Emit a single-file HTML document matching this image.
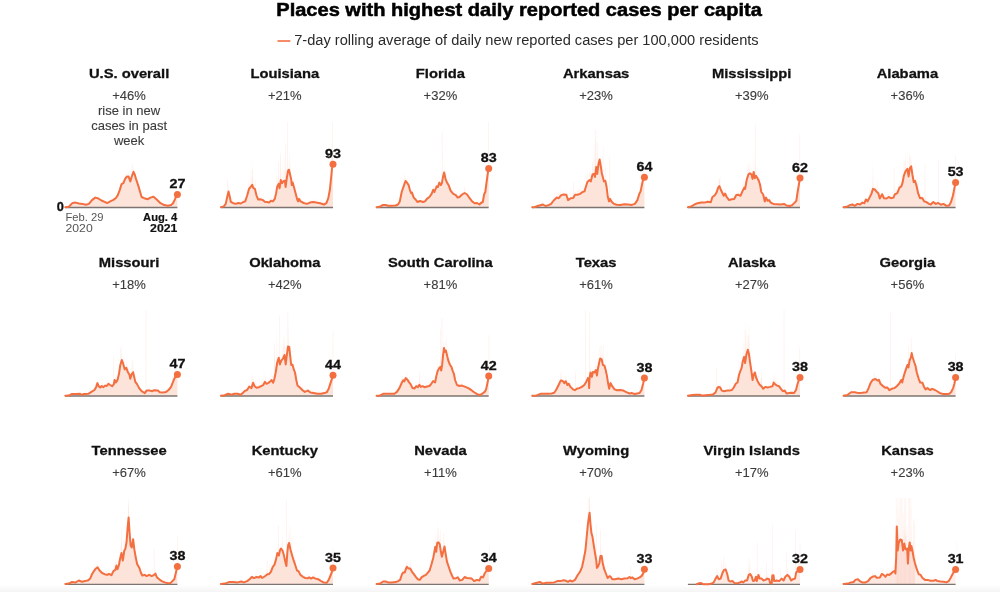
<!DOCTYPE html>
<html lang="en"><head><meta charset="utf-8"><title>Places with highest daily reported cases per capita</title>
<style>html,body{margin:0;padding:0;background:#fff}body{width:1000px;height:592px;overflow:hidden}svg{display:block}text{font-family:"Liberation Sans",sans-serif}.t{font-weight:700;font-size:18px;fill:#000;stroke:#000;stroke-width:.5px}.s{font-size:14.7px;fill:#2a2a2a}.n{font-weight:700;font-size:13.6px;fill:#111;stroke:#111;stroke-width:.3px;text-anchor:middle}.p{font-size:13px;fill:#3c3c3c;stroke:#3c3c3c;stroke-width:.12px;text-anchor:middle}.v{font-weight:700;font-size:12.8px;fill:#111;stroke:#111;stroke-width:.3px;text-anchor:middle}.d{font-size:11.2px;fill:#555}.db{font-size:11.2px;font-weight:700;fill:#111;stroke:#111;stroke-width:.2px;text-anchor:end}.l{fill:none;stroke:#f36f40;stroke-width:2;stroke-linejoin:round;stroke-linecap:round}.a{fill:#f36f40;fill-opacity:.125;stroke:none}.k{fill:#f36f40;fill-opacity:.07;stroke:none}.k2{fill:#f36f40;fill-opacity:.11;stroke:none}.x{stroke:#7d7470;stroke-width:1.3;fill:none}.c{fill:#f36f40}</style></head><body>
<svg width="1000" height="592" viewBox="0 0 1000 592">
<defs><linearGradient id="fade" x1="0" y1="0" x2="0" y2="1"><stop offset="0" stop-color="#fff"/><stop offset="1" stop-color="#f4f4f4"/></linearGradient>
<clipPath id="cp0"><rect x="0" y="121.0" width="1000" height="86.5"/></clipPath>
<clipPath id="cp1"><rect x="0" y="309.5" width="1000" height="86.5"/></clipPath>
<clipPath id="cp2"><rect x="0" y="498.0" width="1000" height="86.3"/></clipPath>
</defs>
<rect x="0" y="0" width="1000" height="592" fill="#fff"/>
<rect x="0" y="584.6" width="1000" height="7.4" fill="url(#fade)"/>
<text class="t" x="276.3" y="15.9" textLength="485.5" lengthAdjust="spacingAndGlyphs">Places with highest daily reported cases per capita</text>
<line x1="277.5" y1="41" x2="290.3" y2="41" stroke="#f36f40" stroke-width="1.6"/>
<text class="s" x="294.2" y="45.0" textLength="464.5" lengthAdjust="spacingAndGlyphs">7-day rolling average of daily new reported cases per 100,000 residents</text>
<g>
<g clip-path="url(#cp0)">
<path class="k" d="M65.3 207.5L65.3 207.2L65.7 207.1L66.2 207.1L66.6 207.0L67.0 206.9L67.5 206.9L67.9 206.9L68.3 206.8L68.7 206.8L69.2 205.2L69.6 205.5L70.0 205.0L70.5 204.2L70.9 203.9L71.3 203.2L71.8 203.2L72.2 202.3L72.6 202.6L73.1 202.0L73.5 201.6L73.9 202.2L74.4 202.3L74.8 201.6L75.2 201.8L75.6 201.6L76.1 202.2L76.5 202.0L76.9 201.9L77.4 203.0L77.8 202.6L78.2 203.0L78.7 202.8L79.1 202.7L79.5 202.5L80.0 202.9L80.4 202.5L80.8 203.2L81.3 202.8L81.7 203.2L82.1 202.5L82.5 203.1L83.0 202.9L83.4 203.4L83.8 204.1L84.3 204.0L84.7 204.0L85.1 204.4L85.6 204.6L86.0 204.1L86.4 204.1L86.9 203.5L87.3 203.8L87.7 202.9L88.2 203.8L88.6 202.9L89.0 202.1L89.4 202.4L89.9 201.8L90.3 201.9L90.7 200.5L91.2 199.6L91.6 200.0L92.0 199.2L92.5 198.3L92.9 198.3L93.3 198.1L93.8 197.7L94.2 196.7L94.6 198.0L95.0 196.2L95.5 197.0L95.9 197.4L96.3 196.6L96.8 197.2L97.2 196.6L97.6 197.5L98.1 197.0L98.5 198.6L98.9 196.5L99.4 198.3L99.8 198.2L100.2 199.5L100.7 199.9L101.1 199.8L101.5 200.0L101.9 199.8L102.4 200.1L102.8 199.7L103.2 200.9L103.7 200.6L104.1 201.2L104.5 201.0L105.0 201.0L105.4 201.4L105.8 201.9L106.3 201.9L106.7 201.0L107.1 202.2L107.6 202.1L108.0 202.6L108.4 201.3L108.8 201.7L109.3 200.8L109.7 201.4L110.1 199.7L110.6 201.0L111.0 200.8L111.4 199.5L111.9 199.8L112.3 199.4L112.7 199.2L113.2 199.6L113.6 199.2L114.0 198.5L114.5 197.7L114.9 198.1L115.3 197.4L115.7 198.0L116.2 196.2L116.6 196.8L117.0 194.7L117.5 195.3L117.9 193.5L118.3 192.3L118.8 190.9L119.2 189.3L119.6 188.2L120.1 186.6L120.5 186.2L120.9 183.5L121.3 184.2L121.8 182.1L122.2 183.1L122.6 179.9L123.1 181.0L123.5 181.8L123.9 177.3L124.4 177.8L124.8 178.8L125.2 174.4L125.7 173.4L126.1 176.5L126.5 173.2L127.0 175.1L127.4 173.5L127.8 175.0L128.2 174.3L128.7 172.4L129.1 174.5L129.5 178.2L130.0 178.8L130.4 179.9L130.8 177.7L131.3 177.1L131.7 173.6L132.1 175.2L132.6 171.9L133.0 171.1L133.4 171.3L133.9 165.4L134.3 173.5L134.7 173.3L135.1 173.3L135.6 174.7L136.0 178.2L136.4 178.6L136.9 180.9L137.3 182.3L137.7 183.3L138.2 184.0L138.6 186.1L139.0 188.1L139.5 187.4L139.9 188.4L140.3 190.8L140.8 193.6L141.2 194.4L141.6 195.9L142.0 196.9L142.5 196.6L142.9 196.7L143.3 197.4L143.8 198.1L144.2 196.5L144.6 196.0L145.1 196.8L145.5 198.2L145.9 196.7L146.4 198.0L146.8 198.3L147.2 198.4L147.7 197.2L148.1 197.4L148.5 198.0L148.9 196.4L149.4 197.4L149.8 195.7L150.2 196.6L150.7 196.6L151.1 196.8L151.5 197.1L152.0 196.0L152.4 195.9L152.8 194.8L153.3 195.6L153.7 195.5L154.1 195.5L154.5 197.2L155.0 196.7L155.4 197.3L155.8 198.4L156.3 198.7L156.7 198.5L157.1 198.4L157.6 199.7L158.0 199.7L158.4 200.4L158.9 201.5L159.3 201.2L159.7 201.5L160.2 201.9L160.6 202.3L161.0 202.7L161.4 203.4L161.9 203.1L162.3 203.2L162.7 203.0L163.2 203.4L163.6 203.7L164.0 204.6L164.5 204.4L164.9 204.3L165.3 204.5L165.8 205.1L166.2 205.1L166.6 205.1L167.1 204.6L167.5 204.5L167.9 205.2L168.3 204.5L168.8 204.3L169.2 205.3L169.6 204.2L170.1 204.0L170.5 203.9L170.9 205.1L171.4 204.5L171.8 204.5L172.2 203.8L172.7 203.0L173.1 202.6L173.5 200.5L174.0 199.9L174.4 198.8L174.8 198.2L175.2 197.6L175.7 195.6L176.1 196.2L176.5 195.6L177.0 194.0L177.4 193.2L177.4 207.5Z"/>
<path class="k2" d="M131.76 175.2L131.91 163.2L132.51 163.2L132.66 175.2Z"/>
<path class="a" d="M65.3 207.5L65.3 207.2L68.8 206.8L72.6 202.9L75.7 202.6L78.9 203.5L82.6 203.9L85.8 204.8L88.9 203.9L92.0 200.1L95.2 197.6L97.7 198.2L101.5 200.5L105.2 202.2L107.5 203.0L110.2 201.4L113.4 199.9L115.9 198.0L117.8 195.1L119.7 190.1L121.5 184.2L123.4 183.2L125.1 178.9L126.6 176.8L128.4 176.4L129.7 179.5L130.3 181.4L131.6 177.0L133.5 171.8L134.7 174.5L136.0 178.9L138.5 186.4L141.6 197.0L144.1 198.2L147.9 199.2L150.4 197.6L153.5 196.8L156.7 199.5L160.5 203.2L164.2 205.1L168.0 205.8L171.1 205.1L173.0 203.2L174.9 199.5L176.1 196.4L177.4 194.5L177.4 207.5Z"/>
</g>
<line class="x" x1="65.3" y1="207.5" x2="177.4" y2="207.5"/>
<path class="l" d="M65.3 207.2L68.8 206.8L72.6 202.9L75.7 202.6L78.9 203.5L82.6 203.9L85.8 204.8L88.9 203.9L92.0 200.1L95.2 197.6L97.7 198.2L101.5 200.5L105.2 202.2L107.5 203.0L110.2 201.4L113.4 199.9L115.9 198.0L117.8 195.1L119.7 190.1L121.5 184.2L123.4 183.2L125.1 178.9L126.6 176.8L128.4 176.4L129.7 179.5L130.3 181.4L131.6 177.0L133.5 171.8L134.7 174.5L136.0 178.9L138.5 186.4L141.6 197.0L144.1 198.2L147.9 199.2L150.4 197.6L153.5 196.8L156.7 199.5L160.5 203.2L164.2 205.1L168.0 205.8L171.1 205.1L173.0 203.2L174.9 199.5L176.1 196.4L177.4 194.5"/>
<circle class="c" cx="177.4" cy="194.5" r="3.5"/>
<text class="v" transform="translate(177.4 188.2) scale(1.12 1)">27</text>
<text class="n" transform="translate(129.1 78.4) scale(1.085 1)">U.S. overall</text>
<text class="p" x="129.1" y="100.1">+46%</text>
<text class="p" x="129.1" y="115.0">rise in new</text>
<text class="p" x="129.1" y="130.0">cases in past</text>
<text class="p" x="129.1" y="144.6">week</text>
<text class="v" x="60.4" y="211.2">0</text>
<text class="d" x="65.5" y="220.5">Feb. 29</text>
<text class="d" x="65.5" y="232.2" textLength="27.2" lengthAdjust="spacingAndGlyphs">2020</text>
<text class="db" x="177.3" y="220.5">Aug. 4</text>
<text class="db" x="177.3" y="232.2" textLength="27.2" lengthAdjust="spacingAndGlyphs">2021</text>
</g>
<g>
<g clip-path="url(#cp0)">
<path class="k" d="M220.9 207.5L220.9 207.2L221.4 206.8L221.8 206.9L222.2 206.8L222.7 206.5L223.1 206.5L223.5 206.1L224.0 206.1L224.4 203.7L224.8 202.4L225.3 202.4L225.7 202.0L226.1 200.4L226.6 199.4L227.0 194.6L227.4 189.2L227.8 193.6L228.3 192.1L228.7 181.9L229.1 185.9L229.6 195.6L230.0 194.5L230.4 192.8L230.9 198.8L231.3 201.9L231.7 198.1L232.2 195.5L232.6 201.7L233.0 201.1L233.5 203.1L233.9 203.1L234.3 203.5L234.7 202.8L235.2 201.5L235.6 201.9L236.0 201.1L236.5 201.8L236.9 203.0L237.3 203.0L237.8 202.2L238.2 202.5L238.6 201.3L239.1 199.1L239.5 201.1L239.9 203.3L240.4 203.3L240.8 203.0L241.2 202.6L241.6 202.1L242.1 202.5L242.5 200.2L242.9 197.7L243.4 200.3L243.8 200.9L244.2 201.2L244.7 197.6L245.1 200.8L245.5 199.5L246.0 196.5L246.4 187.0L246.8 196.0L247.3 194.6L247.7 192.9L248.1 178.7L248.5 184.1L249.0 183.5L249.4 188.3L249.8 187.1L250.3 164.9L250.7 184.7L251.1 185.8L251.6 175.8L252.0 181.5L252.4 171.3L252.9 159.6L253.3 179.4L253.7 188.2L254.1 179.9L254.6 187.6L255.0 184.0L255.4 178.7L255.9 181.5L256.3 194.6L256.7 195.1L257.2 195.8L257.6 194.3L258.0 197.8L258.5 198.5L258.9 187.1L259.3 186.1L259.8 191.6L260.2 199.3L260.6 197.0L261.0 199.3L261.5 195.8L261.9 198.1L262.3 198.3L262.8 199.4L263.2 200.3L263.6 197.5L264.1 199.8L264.5 200.0L264.9 201.1L265.4 200.7L265.8 197.8L266.2 199.8L266.7 201.3L267.1 199.8L267.5 201.2L267.9 201.3L268.4 202.0L268.8 200.9L269.2 201.0L269.7 198.1L270.1 201.4L270.5 194.9L271.0 197.3L271.4 199.7L271.8 200.4L272.3 200.1L272.7 196.5L273.1 198.9L273.6 196.7L274.0 195.4L274.4 198.6L274.8 197.7L275.3 195.7L275.7 194.4L276.1 185.6L276.6 173.4L277.0 175.1L277.4 183.1L277.9 176.2L278.3 180.1L278.7 183.0L279.2 179.0L279.6 186.5L280.0 154.0L280.4 172.3L280.9 180.1L281.3 181.1L281.7 173.3L282.2 168.6L282.6 181.5L283.0 152.1L283.5 180.8L283.9 169.3L284.3 170.4L284.8 154.1L285.2 174.1L285.6 168.7L286.1 177.1L286.5 180.0L286.9 161.2L287.3 172.5L287.8 168.9L288.2 168.0L288.6 169.1L289.1 149.6L289.5 154.2L289.9 165.5L290.4 161.9L290.8 176.8L291.2 180.0L291.7 183.2L292.1 179.4L292.5 182.9L293.0 183.4L293.4 175.6L293.8 179.8L294.2 187.6L294.7 182.0L295.1 183.5L295.5 186.7L296.0 192.2L296.4 196.3L296.8 194.9L297.3 194.2L297.7 197.9L298.1 200.7L298.6 197.2L299.0 198.4L299.4 195.4L299.9 194.1L300.3 200.1L300.7 201.3L301.1 199.1L301.6 201.1L302.0 201.4L302.4 202.1L302.9 199.0L303.3 202.7L303.7 200.6L304.2 201.3L304.6 202.6L305.0 202.0L305.5 203.0L305.9 201.4L306.3 203.2L306.7 201.4L307.2 203.2L307.6 203.2L308.0 201.5L308.5 202.4L308.9 202.6L309.3 200.9L309.8 200.3L310.2 202.2L310.6 201.2L311.1 199.9L311.5 201.3L311.9 201.8L312.4 197.2L312.8 200.7L313.2 200.5L313.6 201.3L314.1 199.8L314.5 199.8L314.9 201.8L315.4 198.8L315.8 202.2L316.2 199.9L316.7 201.0L317.1 197.9L317.5 201.9L318.0 201.9L318.4 202.1L318.8 202.0L319.3 202.6L319.7 202.2L320.1 201.3L320.5 202.4L321.0 197.7L321.4 203.2L321.8 202.7L322.3 201.4L322.7 201.8L323.1 202.0L323.6 203.3L324.0 201.5L324.4 202.7L324.9 203.8L325.3 202.3L325.7 202.6L326.2 202.8L326.6 201.4L327.0 197.2L327.4 199.4L327.9 195.1L328.3 197.7L328.7 195.7L329.2 185.2L329.6 172.7L330.0 187.4L330.5 183.1L330.9 169.7L331.3 149.9L331.8 138.1L332.2 152.9L332.6 153.0L333.0 163.9L333.0 207.5Z"/>
<path class="k2" d="M286.93 174.5L287.08 122.0L287.68 122.0L287.83 174.5ZM332.22 165.7L332.37 122.0L332.97 122.0L333.12 165.7ZM251.70 184.8L251.85 169.5L252.45 169.5L252.60 184.8ZM227.17 195.3L227.32 179.5L227.92 179.5L228.07 195.3ZM280.01 182.6L280.16 153.2L280.76 153.2L280.91 182.6ZM285.04 186.0L285.19 144.5L285.79 144.5L285.94 186.0ZM278.12 183.9L278.27 162.0L278.87 162.0L279.02 183.9Z"/>
<path class="a" d="M220.9 207.5L220.9 207.2L223.8 206.4L225.7 203.9L227.2 197.0L228.5 191.4L229.8 197.0L230.8 201.8L233.3 203.2L235.8 203.9L238.3 203.0L240.8 203.5L243.3 202.0L245.2 201.4L247.1 195.8L249.0 188.9L250.6 187.0L252.2 184.8L253.4 188.2L254.9 188.9L256.6 195.8L258.2 199.5L260.3 199.2L262.8 200.1L264.7 201.8L267.2 202.0L269.1 202.6L271.0 200.8L272.9 201.4L274.8 198.9L276.1 193.2L277.3 186.4L278.6 183.9L279.6 188.2L280.8 180.1L282.1 183.2L283.6 181.0L284.9 180.8L285.6 187.0L286.8 178.2L288.0 170.8L289.0 169.8L290.1 174.5L291.2 179.5L291.8 185.1L292.7 182.6L293.9 187.0L295.6 193.2L297.2 199.5L298.1 201.4L299.0 198.9L300.6 201.4L303.7 203.0L306.9 203.9L310.0 202.6L313.2 202.0L316.3 202.6L320.1 203.2L323.9 204.5L326.4 203.2L328.3 198.2L329.9 189.5L331.2 177.0L332.0 168.2L333.0 164.2L333.0 207.5Z"/>
</g>
<line class="x" x1="220.9" y1="207.5" x2="333.0" y2="207.5"/>
<path class="l" d="M220.9 207.2L223.8 206.4L225.7 203.9L227.2 197.0L228.5 191.4L229.8 197.0L230.8 201.8L233.3 203.2L235.8 203.9L238.3 203.0L240.8 203.5L243.3 202.0L245.2 201.4L247.1 195.8L249.0 188.9L250.6 187.0L252.2 184.8L253.4 188.2L254.9 188.9L256.6 195.8L258.2 199.5L260.3 199.2L262.8 200.1L264.7 201.8L267.2 202.0L269.1 202.6L271.0 200.8L272.9 201.4L274.8 198.9L276.1 193.2L277.3 186.4L278.6 183.9L279.6 188.2L280.8 180.1L282.1 183.2L283.6 181.0L284.9 180.8L285.6 187.0L286.8 178.2L288.0 170.8L289.0 169.8L290.1 174.5L291.2 179.5L291.8 185.1L292.7 182.6L293.9 187.0L295.6 193.2L297.2 199.5L298.1 201.4L299.0 198.9L300.6 201.4L303.7 203.0L306.9 203.9L310.0 202.6L313.2 202.0L316.3 202.6L320.1 203.2L323.9 204.5L326.4 203.2L328.3 198.2L329.9 189.5L331.2 177.0L332.0 168.2L333.0 164.2"/>
<circle class="c" cx="333.0" cy="164.2" r="3.5"/>
<text class="v" transform="translate(333.0 157.9) scale(1.12 1)">93</text>
<text class="n" transform="translate(284.8 78.4) scale(1.085 1)">Louisiana</text>
<text class="p" x="284.8" y="100.1">+21%</text>
</g>
<g>
<g clip-path="url(#cp0)">
<path class="k" d="M376.6 207.5L376.6 207.2L377.0 207.1L377.5 207.1L377.9 207.0L378.3 207.0L378.8 206.8L379.2 206.8L379.6 206.8L380.0 206.6L380.5 206.0L380.9 205.8L381.3 205.6L381.8 204.2L382.2 205.0L382.6 203.1L383.1 204.3L383.5 203.8L383.9 203.7L384.4 202.8L384.8 204.4L385.2 204.1L385.7 204.5L386.1 204.9L386.5 204.8L386.9 205.0L387.4 204.4L387.8 205.4L388.2 204.9L388.7 204.3L389.1 205.0L389.5 205.3L390.0 204.6L390.4 205.2L390.8 205.2L391.3 205.7L391.7 204.8L392.1 204.3L392.6 204.9L393.0 204.6L393.4 205.4L393.8 204.7L394.3 205.0L394.7 204.4L395.1 205.0L395.6 204.4L396.0 204.2L396.4 204.9L396.9 204.6L397.3 204.2L397.7 204.4L398.2 202.0L398.6 201.6L399.0 201.2L399.5 199.3L399.9 199.6L400.3 198.6L400.7 192.1L401.2 194.7L401.6 191.0L402.0 187.2L402.5 189.7L402.9 184.7L403.3 178.8L403.8 177.0L404.2 184.5L404.6 182.3L405.1 179.8L405.5 176.8L405.9 178.1L406.3 180.1L406.8 177.4L407.2 180.1L407.6 183.2L408.1 184.1L408.5 184.7L408.9 184.5L409.4 177.0L409.8 188.7L410.2 188.5L410.7 190.8L411.1 192.1L411.5 192.2L412.0 189.7L412.4 191.2L412.8 192.8L413.2 195.3L413.7 197.0L414.1 196.4L414.5 196.5L415.0 197.8L415.4 198.6L415.8 197.2L416.3 198.4L416.7 199.9L417.1 198.6L417.6 199.1L418.0 200.3L418.4 201.3L418.9 200.5L419.3 200.8L419.7 199.6L420.1 200.1L420.6 200.5L421.0 201.3L421.4 201.1L421.9 201.2L422.3 200.3L422.7 201.3L423.2 200.1L423.6 201.6L424.0 199.5L424.5 200.0L424.9 201.0L425.3 200.5L425.8 198.7L426.2 199.1L426.6 194.6L427.0 198.3L427.5 196.5L427.9 194.5L428.3 196.9L428.8 196.4L429.2 195.9L429.6 196.1L430.1 193.1L430.5 193.0L430.9 193.9L431.4 193.8L431.8 193.0L432.2 187.9L432.7 190.5L433.1 185.9L433.5 184.6L433.9 190.0L434.4 188.2L434.8 190.0L435.2 185.8L435.7 185.0L436.1 184.1L436.5 185.7L437.0 179.3L437.4 183.5L437.8 180.6L438.3 184.9L438.7 183.8L439.1 177.3L439.5 182.2L440.0 182.1L440.4 180.4L440.8 180.8L441.3 183.6L441.7 183.4L442.1 180.7L442.6 179.2L443.0 174.2L443.4 168.8L443.9 172.9L444.3 160.7L444.7 167.9L445.2 174.4L445.6 178.2L446.0 177.5L446.4 177.5L446.9 169.6L447.3 182.2L447.7 183.0L448.2 182.3L448.6 184.2L449.0 170.1L449.5 179.8L449.9 187.4L450.3 189.2L450.8 190.4L451.2 188.6L451.6 190.8L452.1 189.3L452.5 190.3L452.9 190.5L453.3 190.2L453.8 193.9L454.2 193.3L454.6 190.4L455.1 192.8L455.5 194.2L455.9 194.9L456.4 193.1L456.8 196.0L457.2 195.7L457.7 193.3L458.1 196.3L458.5 197.1L459.0 193.5L459.4 194.3L459.8 195.7L460.2 191.4L460.7 194.7L461.1 194.7L461.5 193.7L462.0 186.8L462.4 192.6L462.8 190.4L463.3 192.5L463.7 192.7L464.1 191.0L464.6 192.8L465.0 193.1L465.4 190.3L465.8 191.0L466.3 192.3L466.7 192.8L467.1 191.7L467.6 192.5L468.0 194.8L468.4 194.0L468.9 197.1L469.3 195.2L469.7 198.0L470.2 194.4L470.6 199.0L471.0 199.1L471.5 199.6L471.9 198.4L472.3 201.2L472.7 200.8L473.2 202.1L473.6 201.3L474.0 202.5L474.5 202.3L474.9 202.4L475.3 202.9L475.8 201.6L476.2 202.9L476.6 201.9L477.1 200.6L477.5 203.1L477.9 202.9L478.4 202.6L478.8 203.8L479.2 203.3L479.6 203.3L480.1 203.5L480.5 202.3L480.9 201.2L481.4 200.3L481.8 202.4L482.2 200.9L482.7 200.2L483.1 197.4L483.5 194.1L484.0 189.7L484.4 193.0L484.8 188.9L485.3 192.0L485.7 183.3L486.1 182.1L486.5 181.1L487.0 172.9L487.4 172.1L487.8 170.8L488.3 170.8L488.7 159.9L488.7 207.5Z"/>
<path class="k2" d="M441.75 181.8L441.90 132.0L442.50 132.0L442.65 181.8ZM488.00 169.9L488.15 122.0L488.75 122.0L488.90 169.9ZM404.43 182.8L404.58 174.5L405.18 174.5L405.33 182.8ZM464.12 193.0L464.27 187.0L464.87 187.0L465.02 193.0Z"/>
<path class="a" d="M376.6 207.5L376.6 207.2L379.7 206.8L382.9 204.9L385.4 204.9L387.9 205.8L391.7 205.8L395.5 205.5L398.0 204.5L399.8 201.4L401.7 192.0L403.6 186.4L405.5 181.0L407.4 183.2L408.6 185.1L409.9 190.1L411.2 193.2L412.0 192.6L413.7 197.6L415.6 199.5L417.4 202.0L420.0 201.0L423.1 202.0L425.0 201.4L426.9 198.9L429.4 197.0L431.6 193.9L433.2 189.8L434.4 192.0L435.4 189.5L436.7 186.4L437.9 187.0L439.4 182.6L440.7 185.1L441.9 183.2L443.2 175.8L444.2 172.4L445.5 178.9L447.0 182.6L448.9 185.8L450.7 190.8L453.3 193.9L455.8 195.1L457.7 197.6L459.5 197.0L462.1 194.5L464.6 193.0L467.1 194.5L469.6 198.2L472.1 201.4L474.6 203.2L477.1 203.0L479.4 204.5L480.9 203.0L482.8 202.0L484.1 194.5L485.3 192.0L486.6 182.0L487.8 173.2L488.7 168.5L488.7 207.5Z"/>
</g>
<line class="x" x1="376.6" y1="207.5" x2="488.7" y2="207.5"/>
<path class="l" d="M376.6 207.2L379.7 206.8L382.9 204.9L385.4 204.9L387.9 205.8L391.7 205.8L395.5 205.5L398.0 204.5L399.8 201.4L401.7 192.0L403.6 186.4L405.5 181.0L407.4 183.2L408.6 185.1L409.9 190.1L411.2 193.2L412.0 192.6L413.7 197.6L415.6 199.5L417.4 202.0L420.0 201.0L423.1 202.0L425.0 201.4L426.9 198.9L429.4 197.0L431.6 193.9L433.2 189.8L434.4 192.0L435.4 189.5L436.7 186.4L437.9 187.0L439.4 182.6L440.7 185.1L441.9 183.2L443.2 175.8L444.2 172.4L445.5 178.9L447.0 182.6L448.9 185.8L450.7 190.8L453.3 193.9L455.8 195.1L457.7 197.6L459.5 197.0L462.1 194.5L464.6 193.0L467.1 194.5L469.6 198.2L472.1 201.4L474.6 203.2L477.1 203.0L479.4 204.5L480.9 203.0L482.8 202.0L484.1 194.5L485.3 192.0L486.6 182.0L487.8 173.2L488.7 168.5"/>
<circle class="c" cx="488.7" cy="168.5" r="3.5"/>
<text class="v" transform="translate(488.7 162.2) scale(1.12 1)">83</text>
<text class="n" transform="translate(440.4 78.4) scale(1.085 1)">Florida</text>
<text class="p" x="440.4" y="100.1">+32%</text>
</g>
<g>
<g clip-path="url(#cp0)">
<path class="k" d="M532.2 207.5L532.2 207.2L532.7 207.1L533.1 207.1L533.5 207.0L534.0 207.1L534.4 206.7L534.8 206.7L535.3 206.6L535.7 206.7L536.1 206.5L536.6 204.8L537.0 205.4L537.4 205.5L537.9 205.4L538.3 204.7L538.7 204.7L539.1 204.1L539.6 204.2L540.0 204.6L540.4 204.9L540.9 204.6L541.3 202.7L541.7 204.1L542.2 203.8L542.6 201.7L543.0 203.5L543.5 204.5L543.9 204.7L544.3 203.7L544.8 205.0L545.2 205.3L545.6 204.7L546.0 204.7L546.5 204.0L546.9 205.2L547.3 204.5L547.8 203.9L548.2 205.1L548.6 202.0L549.1 203.7L549.5 203.4L549.9 203.2L550.4 203.3L550.8 203.6L551.2 201.7L551.7 199.6L552.1 200.2L552.5 198.8L552.9 200.7L553.4 196.1L553.8 197.2L554.2 195.1L554.7 188.8L555.1 196.4L555.5 198.3L556.0 197.4L556.4 193.2L556.8 196.8L557.3 192.5L557.7 196.8L558.1 192.0L558.6 192.1L559.0 196.8L559.4 196.6L559.8 190.0L560.3 193.0L560.7 186.4L561.1 194.7L561.6 194.4L562.0 193.7L562.4 191.3L562.9 189.8L563.3 194.0L563.7 194.4L564.2 192.9L564.6 187.8L565.0 189.6L565.4 193.2L565.9 194.6L566.3 189.6L566.7 195.2L567.2 191.3L567.6 192.9L568.0 199.0L568.5 198.7L568.9 198.5L569.3 199.0L569.8 196.9L570.2 198.5L570.6 197.4L571.1 186.1L571.5 197.1L571.9 197.8L572.3 194.6L572.8 193.0L573.2 191.0L573.6 190.5L574.1 195.7L574.5 191.3L574.9 192.1L575.4 192.0L575.8 191.4L576.2 193.5L576.7 194.3L577.1 191.6L577.5 188.0L578.0 190.6L578.4 189.6L578.8 187.9L579.2 185.7L579.7 190.5L580.1 188.8L580.5 190.0L581.0 190.4L581.4 183.7L581.8 191.7L582.3 191.5L582.7 190.9L583.1 185.1L583.6 191.1L584.0 179.3L584.4 191.0L584.9 188.4L585.3 188.5L585.7 183.1L586.1 166.1L586.6 179.9L587.0 177.5L587.4 174.3L587.9 168.9L588.3 180.3L588.7 179.9L589.2 179.4L589.6 165.1L590.0 171.7L590.5 172.7L590.9 170.2L591.3 179.0L591.7 176.3L592.2 173.4L592.6 172.0L593.0 162.6L593.5 154.6L593.9 173.4L594.3 152.1L594.8 137.3L595.2 165.2L595.6 127.6L596.1 146.3L596.5 168.6L596.9 171.5L597.4 166.5L597.8 168.9L598.2 165.7L598.6 163.0L599.1 160.9L599.5 158.8L599.9 160.1L600.4 153.1L600.8 166.1L601.2 160.2L601.7 161.2L602.1 173.8L602.5 159.7L603.0 148.6L603.4 143.1L603.8 178.6L604.3 180.7L604.7 180.0L605.1 163.6L605.5 167.5L606.0 169.1L606.4 178.5L606.8 185.0L607.3 186.0L607.7 192.7L608.1 197.4L608.6 194.8L609.0 195.2L609.4 198.8L609.9 194.8L610.3 198.2L610.7 199.0L611.2 200.7L611.6 196.8L612.0 200.2L612.4 195.7L612.9 201.3L613.3 202.8L613.7 199.8L614.2 202.0L614.6 203.4L615.0 203.9L615.5 199.3L615.9 203.0L616.3 202.6L616.8 202.6L617.2 204.2L617.6 203.9L618.0 202.9L618.5 201.7L618.9 202.4L619.3 203.6L619.8 202.3L620.2 203.5L620.6 202.0L621.1 204.1L621.5 202.8L621.9 203.2L622.4 202.3L622.8 203.5L623.2 202.9L623.7 202.0L624.1 201.3L624.5 202.8L624.9 202.7L625.4 203.1L625.8 202.1L626.2 203.1L626.7 203.6L627.1 202.4L627.5 204.2L628.0 203.7L628.4 204.0L628.8 203.5L629.3 203.7L629.7 204.2L630.1 202.8L630.6 203.7L631.0 202.5L631.4 204.0L631.8 203.5L632.3 203.3L632.7 202.4L633.1 202.8L633.6 202.4L634.0 203.5L634.4 202.9L634.9 200.5L635.3 201.4L635.7 201.2L636.2 199.7L636.6 200.7L637.0 198.7L637.5 199.6L637.9 197.1L638.3 196.8L638.7 195.5L639.2 187.3L639.6 193.2L640.0 183.8L640.5 190.7L640.9 175.3L641.3 187.0L641.8 177.9L642.2 182.6L642.6 176.4L643.1 159.6L643.5 170.2L643.9 172.5L644.4 167.3L644.4 207.5Z"/>
<path class="k2" d="M595.41 170.0L595.56 129.5L596.16 129.5L596.31 170.0ZM597.30 169.9L597.45 142.0L598.05 142.0L598.20 169.9ZM609.26 199.8L609.41 157.0L610.01 157.0L610.16 199.8ZM592.26 174.4L592.41 162.0L593.01 162.0L593.16 174.4ZM573.37 196.9L573.52 182.0L574.12 182.0L574.27 196.9Z"/>
<path class="a" d="M532.2 207.5L532.2 207.2L534.8 207.0L538.5 205.8L543.0 204.5L545.5 206.0L548.6 205.1L551.1 203.9L553.7 200.5L556.8 197.6L558.7 198.2L561.2 195.1L563.7 194.5L566.3 194.8L568.1 200.1L570.7 198.2L573.2 198.0L575.1 194.8L577.6 194.8L580.1 193.9L582.6 192.0L584.5 191.4L585.8 187.0L587.4 182.0L589.6 180.1L590.8 181.4L592.5 174.5L594.0 173.9L595.0 177.0L596.2 167.0L597.2 173.9L598.5 163.9L599.6 159.5L600.5 164.5L601.8 173.2L602.8 177.0L604.0 181.4L605.3 180.8L606.6 187.0L607.8 197.0L609.1 201.4L610.1 198.9L611.6 201.8L614.1 203.9L616.6 204.8L620.4 204.9L624.2 204.2L628.0 204.5L631.8 204.9L634.9 203.9L637.4 200.1L639.3 193.9L640.6 191.4L642.1 183.9L643.1 179.5L644.4 177.2L644.4 207.5Z"/>
</g>
<line class="x" x1="532.2" y1="207.5" x2="644.4" y2="207.5"/>
<path class="l" d="M532.2 207.2L534.8 207.0L538.5 205.8L543.0 204.5L545.5 206.0L548.6 205.1L551.1 203.9L553.7 200.5L556.8 197.6L558.7 198.2L561.2 195.1L563.7 194.5L566.3 194.8L568.1 200.1L570.7 198.2L573.2 198.0L575.1 194.8L577.6 194.8L580.1 193.9L582.6 192.0L584.5 191.4L585.8 187.0L587.4 182.0L589.6 180.1L590.8 181.4L592.5 174.5L594.0 173.9L595.0 177.0L596.2 167.0L597.2 173.9L598.5 163.9L599.6 159.5L600.5 164.5L601.8 173.2L602.8 177.0L604.0 181.4L605.3 180.8L606.6 187.0L607.8 197.0L609.1 201.4L610.1 198.9L611.6 201.8L614.1 203.9L616.6 204.8L620.4 204.9L624.2 204.2L628.0 204.5L631.8 204.9L634.9 203.9L637.4 200.1L639.3 193.9L640.6 191.4L642.1 183.9L643.1 179.5L644.4 177.2"/>
<circle class="c" cx="644.4" cy="177.2" r="3.5"/>
<text class="v" transform="translate(644.4 170.9) scale(1.12 1)">64</text>
<text class="n" transform="translate(596.1 78.4) scale(1.085 1)">Arkansas</text>
<text class="p" x="596.1" y="100.1">+23%</text>
</g>
<g>
<g clip-path="url(#cp0)">
<path class="k" d="M687.9 207.5L687.9 207.2L688.3 207.1L688.8 207.0L689.2 206.8L689.6 206.8L690.1 206.7L690.5 206.3L690.9 204.9L691.3 205.2L691.8 205.0L692.2 204.7L692.6 204.2L693.1 204.4L693.5 203.8L693.9 203.8L694.4 203.0L694.8 203.6L695.2 203.2L695.7 203.6L696.1 201.7L696.5 203.1L697.0 203.4L697.4 200.0L697.8 201.8L698.2 200.6L698.7 202.3L699.1 202.5L699.5 201.3L700.0 200.7L700.4 201.1L700.8 202.1L701.3 198.3L701.7 199.3L702.1 201.0L702.6 202.2L703.0 202.2L703.4 200.8L703.9 201.9L704.3 201.2L704.7 199.8L705.1 202.0L705.6 201.1L706.0 199.5L706.4 201.5L706.9 199.7L707.3 200.8L707.7 199.2L708.2 200.4L708.6 199.7L709.0 200.3L709.5 201.1L709.9 201.0L710.3 200.3L710.8 199.1L711.2 200.5L711.6 195.8L712.0 197.4L712.5 196.1L712.9 194.0L713.3 192.3L713.8 195.0L714.2 193.6L714.6 195.3L715.1 193.1L715.5 193.9L715.9 189.6L716.4 187.8L716.8 191.2L717.2 186.6L717.6 189.0L718.1 185.0L718.5 182.2L718.9 176.8L719.4 178.7L719.8 179.5L720.2 172.9L720.7 184.9L721.1 190.4L721.5 184.9L722.0 191.1L722.4 192.2L722.8 193.7L723.3 193.9L723.7 185.8L724.1 191.4L724.5 193.5L725.0 187.1L725.4 194.2L725.8 188.6L726.3 194.6L726.7 190.6L727.1 196.9L727.6 194.4L728.0 198.0L728.4 196.1L728.9 198.2L729.3 198.7L729.7 196.5L730.2 198.8L730.6 198.8L731.0 194.5L731.4 198.3L731.9 198.3L732.3 191.8L732.7 194.0L733.2 194.8L733.6 196.7L734.0 195.6L734.5 197.0L734.9 192.0L735.3 195.7L735.8 194.4L736.2 194.6L736.6 191.2L737.1 193.8L737.5 192.4L737.9 187.9L738.3 188.6L738.8 192.7L739.2 189.7L739.6 194.5L740.1 188.0L740.5 194.9L740.9 189.6L741.4 193.1L741.8 190.6L742.2 181.3L742.7 184.8L743.1 181.7L743.5 188.9L744.0 174.4L744.4 187.7L744.8 188.1L745.2 180.1L745.7 185.1L746.1 181.6L746.5 180.1L747.0 161.3L747.4 177.2L747.8 175.7L748.3 167.0L748.7 174.1L749.1 171.5L749.6 160.2L750.0 162.7L750.4 171.4L750.8 173.7L751.3 163.6L751.7 174.7L752.1 168.8L752.6 173.5L753.0 175.6L753.4 173.2L753.9 152.0L754.3 170.7L754.7 176.0L755.2 173.7L755.6 165.6L756.0 175.4L756.5 163.4L756.9 176.8L757.3 177.0L757.7 178.3L758.2 168.6L758.6 179.4L759.0 179.8L759.5 172.3L759.9 177.9L760.3 185.3L760.8 181.8L761.2 185.0L761.6 184.4L762.1 190.6L762.5 192.7L762.9 193.9L763.4 194.2L763.8 196.0L764.2 195.0L764.6 199.2L765.1 200.2L765.5 194.8L765.9 196.3L766.4 191.2L766.8 198.4L767.2 199.7L767.7 198.2L768.1 197.8L768.5 200.3L769.0 199.4L769.4 199.1L769.8 200.9L770.3 198.9L770.7 199.6L771.1 202.2L771.5 200.7L772.0 201.3L772.4 202.3L772.8 201.6L773.3 203.6L773.7 202.6L774.1 202.8L774.6 203.1L775.0 203.7L775.4 203.2L775.9 203.9L776.3 203.0L776.7 203.5L777.1 202.6L777.6 204.1L778.0 203.3L778.4 201.4L778.9 204.0L779.3 202.9L779.7 203.3L780.2 201.8L780.6 203.6L781.0 204.3L781.5 201.6L781.9 203.0L782.3 203.7L782.8 202.4L783.2 203.0L783.6 203.7L784.0 202.9L784.5 202.6L784.9 202.7L785.3 204.7L785.8 205.0L786.2 204.4L786.6 204.4L787.1 204.5L787.5 205.6L787.9 204.9L788.4 203.2L788.8 204.6L789.2 205.9L789.7 205.3L790.1 204.4L790.5 205.5L790.9 204.1L791.4 203.3L791.8 204.5L792.2 202.7L792.7 200.6L793.1 202.6L793.5 203.7L794.0 201.0L794.4 198.8L794.8 200.5L795.3 201.7L795.7 200.8L796.1 199.7L796.6 198.8L797.0 196.0L797.4 190.3L797.8 190.6L798.3 182.6L798.7 180.9L799.1 181.8L799.6 170.6L800.0 161.0L800.0 207.5Z"/>
<path class="k2" d="M754.79 177.3L754.94 124.5L755.54 124.5L755.69 177.3ZM799.30 179.4L799.45 134.5L800.05 134.5L800.20 179.4ZM747.60 175.7L747.75 164.5L748.35 164.5L748.50 175.7ZM719.23 186.7L719.38 179.5L719.98 179.5L720.13 186.7Z"/>
<path class="a" d="M687.9 207.5L687.9 207.2L691.3 206.4L694.5 204.5L697.6 203.2L701.4 202.6L704.5 202.6L707.7 201.8L710.8 202.2L712.4 197.0L714.6 195.5L716.5 192.6L718.2 187.6L719.4 186.0L720.7 189.5L722.5 193.2L723.7 195.8L725.0 193.5L726.6 196.8L729.1 200.1L731.7 199.2L734.2 198.9L736.3 195.1L738.6 194.8L740.5 195.8L742.4 191.4L744.3 187.6L745.1 188.9L746.8 179.5L748.4 174.5L749.9 173.2L751.5 174.5L752.5 178.9L753.7 172.0L754.7 178.2L756.0 175.8L757.5 178.2L758.8 180.8L760.0 184.5L761.3 192.0L763.2 194.5L764.8 201.4L766.1 197.6L767.6 200.8L769.1 200.1L770.7 202.6L773.3 203.9L777.1 204.2L780.8 204.5L784.0 203.9L786.5 205.5L789.7 206.0L792.2 205.1L794.7 202.6L796.3 200.8L797.6 192.0L798.9 184.5L800.0 178.0L800.0 207.5Z"/>
</g>
<line class="x" x1="687.9" y1="207.5" x2="800.0" y2="207.5"/>
<path class="l" d="M687.9 207.2L691.3 206.4L694.5 204.5L697.6 203.2L701.4 202.6L704.5 202.6L707.7 201.8L710.8 202.2L712.4 197.0L714.6 195.5L716.5 192.6L718.2 187.6L719.4 186.0L720.7 189.5L722.5 193.2L723.7 195.8L725.0 193.5L726.6 196.8L729.1 200.1L731.7 199.2L734.2 198.9L736.3 195.1L738.6 194.8L740.5 195.8L742.4 191.4L744.3 187.6L745.1 188.9L746.8 179.5L748.4 174.5L749.9 173.2L751.5 174.5L752.5 178.9L753.7 172.0L754.7 178.2L756.0 175.8L757.5 178.2L758.8 180.8L760.0 184.5L761.3 192.0L763.2 194.5L764.8 201.4L766.1 197.6L767.6 200.8L769.1 200.1L770.7 202.6L773.3 203.9L777.1 204.2L780.8 204.5L784.0 203.9L786.5 205.5L789.7 206.0L792.2 205.1L794.7 202.6L796.3 200.8L797.6 192.0L798.9 184.5L800.0 178.0"/>
<circle class="c" cx="800.0" cy="178.0" r="3.5"/>
<text class="v" transform="translate(800.0 171.7) scale(1.12 1)">62</text>
<text class="n" transform="translate(751.7 78.4) scale(1.085 1)">Mississippi</text>
<text class="p" x="751.7" y="100.1">+39%</text>
</g>
<g>
<g clip-path="url(#cp0)">
<path class="k" d="M843.5 207.5L843.5 207.2L844.0 207.0L844.4 207.1L844.8 206.8L845.3 206.9L845.7 206.9L846.1 206.5L846.6 206.8L847.0 206.2L847.4 205.3L847.9 205.9L848.3 204.7L848.7 205.0L849.2 204.1L849.6 205.1L850.0 204.0L850.4 203.8L850.9 203.3L851.3 202.9L851.7 202.9L852.2 204.2L852.6 203.2L853.0 204.3L853.5 204.1L853.9 204.2L854.3 204.9L854.8 204.1L855.2 204.8L855.6 204.9L856.1 203.1L856.5 203.4L856.9 201.3L857.3 203.7L857.8 203.3L858.2 202.3L858.6 202.7L859.1 203.9L859.5 202.4L859.9 202.8L860.4 202.1L860.8 201.7L861.2 199.1L861.7 200.0L862.1 201.9L862.5 201.4L863.0 201.9L863.4 202.3L863.8 201.2L864.2 201.0L864.7 201.2L865.1 198.6L865.5 199.6L866.0 197.2L866.4 195.8L866.8 199.0L867.3 198.0L867.7 198.4L868.1 196.0L868.6 197.1L869.0 195.4L869.4 189.9L869.9 188.4L870.3 187.4L870.7 191.9L871.1 189.7L871.6 186.2L872.0 186.6L872.4 176.0L872.9 161.1L873.3 178.7L873.7 184.8L874.2 188.3L874.6 188.6L875.0 183.5L875.5 189.6L875.9 186.4L876.3 190.1L876.7 185.1L877.2 181.1L877.6 177.7L878.0 188.8L878.5 193.6L878.9 192.7L879.3 190.2L879.8 196.5L880.2 193.7L880.6 191.1L881.1 195.5L881.5 195.2L881.9 192.4L882.4 190.2L882.8 195.4L883.2 195.9L883.6 196.7L884.1 194.8L884.5 197.8L884.9 189.6L885.4 193.4L885.8 196.3L886.2 197.7L886.7 198.0L887.1 195.6L887.5 190.5L888.0 194.9L888.4 193.6L888.8 195.0L889.3 193.3L889.7 195.6L890.1 197.8L890.5 197.3L891.0 195.0L891.4 195.1L891.8 197.5L892.3 189.0L892.7 197.0L893.1 195.9L893.6 197.4L894.0 192.1L894.4 189.2L894.9 193.9L895.3 193.6L895.7 184.9L896.2 190.1L896.6 187.3L897.0 193.1L897.4 189.3L897.9 190.7L898.3 182.9L898.7 188.7L899.2 181.8L899.6 176.9L900.0 183.7L900.5 186.8L900.9 186.2L901.3 175.5L901.8 178.7L902.2 178.4L902.6 179.5L903.0 159.5L903.5 161.6L903.9 175.1L904.3 170.3L904.8 172.5L905.2 159.3L905.6 148.0L906.1 170.4L906.5 169.9L906.9 169.0L907.4 168.0L907.8 146.7L908.2 164.8L908.7 175.9L909.1 173.2L909.5 159.6L909.9 153.5L910.4 157.7L910.8 166.2L911.2 157.2L911.7 161.0L912.1 171.8L912.5 168.3L913.0 175.9L913.4 179.8L913.8 181.6L914.3 176.4L914.7 180.2L915.1 180.2L915.6 181.3L916.0 183.2L916.4 165.8L916.8 186.0L917.3 177.1L917.7 184.8L918.1 180.7L918.6 186.1L919.0 192.0L919.4 194.1L919.9 193.5L920.3 191.9L920.7 194.4L921.2 196.0L921.6 197.7L922.0 194.4L922.5 196.0L922.9 198.2L923.3 199.3L923.7 198.2L924.2 198.5L924.6 201.3L925.0 201.0L925.5 193.7L925.9 196.3L926.3 201.7L926.8 201.9L927.2 200.5L927.6 199.9L928.1 203.0L928.5 200.1L928.9 202.9L929.3 202.6L929.8 201.4L930.2 203.3L930.6 201.4L931.1 201.2L931.5 200.9L931.9 201.1L932.4 202.0L932.8 200.7L933.2 201.7L933.7 198.4L934.1 200.5L934.5 200.8L935.0 200.7L935.4 202.5L935.8 203.5L936.2 201.3L936.7 203.0L937.1 202.6L937.5 202.1L938.0 203.0L938.4 199.5L938.8 202.8L939.3 203.0L939.7 202.3L940.1 203.3L940.6 203.2L941.0 201.5L941.4 203.1L941.9 204.0L942.3 204.1L942.7 202.8L943.1 202.9L943.6 203.1L944.0 202.8L944.4 201.8L944.9 201.4L945.3 204.8L945.7 204.5L946.2 205.2L946.6 205.6L947.0 203.6L947.5 204.8L947.9 204.9L948.3 204.1L948.8 204.6L949.2 204.0L949.6 203.4L950.0 202.7L950.5 201.9L950.9 201.7L951.3 198.7L951.8 197.0L952.2 194.6L952.6 194.3L953.1 191.0L953.5 192.1L953.9 186.7L954.4 182.7L954.8 173.6L955.2 173.1L955.6 180.0L955.6 207.5Z"/>
<path class="k2" d="M909.45 168.2L909.60 154.5L910.20 154.5L910.35 168.2ZM954.95 183.7L955.10 155.8L955.70 155.8L955.85 183.7ZM937.89 203.0L938.04 160.8L938.64 160.8L938.79 203.0ZM924.62 201.7L924.77 163.9L925.37 163.9L925.52 201.7ZM893.65 196.1L893.80 168.2L894.40 168.2L894.55 196.1ZM904.39 173.1L904.54 160.8L905.14 160.8L905.29 173.1Z"/>
<path class="a" d="M843.5 207.5L843.5 207.2L846.7 206.8L849.9 205.1L852.4 204.5L854.9 205.8L857.5 203.9L860.0 204.5L862.5 202.6L864.4 203.2L865.9 199.5L867.6 201.4L869.5 197.6L871.4 193.9L873.0 188.9L874.8 189.5L876.4 191.4L878.3 193.2L879.8 198.5L882.1 194.2L884.0 198.2L886.5 198.5L888.7 197.0L890.9 198.2L893.5 197.6L894.7 194.5L897.3 193.2L899.5 187.6L901.3 186.4L902.6 182.6L903.8 175.8L905.5 171.4L907.4 168.9L908.6 176.4L909.9 168.2L911.2 166.4L912.4 174.5L913.7 182.0L915.0 180.8L916.5 185.8L918.1 193.2L920.0 198.2L922.3 198.0L924.1 201.4L926.3 202.0L928.9 203.9L930.8 204.5L933.3 202.0L935.8 203.9L938.3 203.0L940.9 204.8L943.4 203.9L946.6 205.8L949.1 205.5L951.0 202.0L952.9 195.8L954.4 188.2L955.6 182.6L955.6 207.5Z"/>
</g>
<line class="x" x1="843.5" y1="207.5" x2="955.6" y2="207.5"/>
<path class="l" d="M843.5 207.2L846.7 206.8L849.9 205.1L852.4 204.5L854.9 205.8L857.5 203.9L860.0 204.5L862.5 202.6L864.4 203.2L865.9 199.5L867.6 201.4L869.5 197.6L871.4 193.9L873.0 188.9L874.8 189.5L876.4 191.4L878.3 193.2L879.8 198.5L882.1 194.2L884.0 198.2L886.5 198.5L888.7 197.0L890.9 198.2L893.5 197.6L894.7 194.5L897.3 193.2L899.5 187.6L901.3 186.4L902.6 182.6L903.8 175.8L905.5 171.4L907.4 168.9L908.6 176.4L909.9 168.2L911.2 166.4L912.4 174.5L913.7 182.0L915.0 180.8L916.5 185.8L918.1 193.2L920.0 198.2L922.3 198.0L924.1 201.4L926.3 202.0L928.9 203.9L930.8 204.5L933.3 202.0L935.8 203.9L938.3 203.0L940.9 204.8L943.4 203.9L946.6 205.8L949.1 205.5L951.0 202.0L952.9 195.8L954.4 188.2L955.6 182.6"/>
<circle class="c" cx="955.6" cy="182.6" r="3.5"/>
<text class="v" transform="translate(955.6 176.3) scale(1.12 1)">53</text>
<text class="n" transform="translate(907.4 78.4) scale(1.085 1)">Alabama</text>
<text class="p" x="907.4" y="100.1">+36%</text>
</g>
<g>
<g clip-path="url(#cp1)">
<path class="k" d="M65.3 396.0L65.3 395.7L65.7 395.6L66.2 395.5L66.6 395.6L67.0 395.7L67.5 395.7L67.9 395.6L68.3 395.5L68.7 395.5L69.2 395.4L69.6 395.1L70.0 393.9L70.5 394.6L70.9 393.5L71.3 393.2L71.8 392.8L72.2 393.2L72.6 393.0L73.1 393.7L73.5 392.9L73.9 393.7L74.4 392.1L74.8 393.1L75.2 393.1L75.6 392.9L76.1 392.6L76.5 393.2L76.9 393.4L77.4 393.0L77.8 391.9L78.2 393.6L78.7 393.7L79.1 392.7L79.5 393.3L80.0 393.3L80.4 393.4L80.8 393.0L81.3 393.2L81.7 393.9L82.1 394.3L82.5 393.1L83.0 393.8L83.4 393.1L83.8 393.0L84.3 393.1L84.7 393.1L85.1 392.3L85.6 392.0L86.0 393.4L86.4 392.7L86.9 392.6L87.3 392.7L87.7 392.2L88.2 393.4L88.6 393.1L89.0 392.7L89.4 391.9L89.9 390.7L90.3 391.4L90.7 391.2L91.2 390.0L91.6 389.5L92.0 390.6L92.5 390.1L92.9 390.2L93.3 389.7L93.8 386.8L94.2 389.2L94.6 388.7L95.0 388.5L95.5 384.5L95.9 383.2L96.3 385.6L96.8 384.8L97.2 382.3L97.6 382.0L98.1 380.0L98.5 383.8L98.9 383.3L99.4 386.2L99.8 386.0L100.2 385.7L100.7 385.1L101.1 379.9L101.5 383.8L101.9 386.1L102.4 381.4L102.8 386.3L103.2 383.9L103.7 386.3L104.1 386.0L104.5 384.2L105.0 385.1L105.4 381.4L105.8 385.6L106.3 379.5L106.7 386.0L107.1 382.3L107.6 383.4L108.0 379.1L108.4 377.9L108.8 383.6L109.3 384.1L109.7 384.6L110.1 380.1L110.6 383.0L111.0 384.3L111.4 384.9L111.9 383.3L112.3 384.4L112.7 381.4L113.2 383.9L113.6 382.9L114.0 379.7L114.5 375.3L114.9 379.7L115.3 374.2L115.7 378.2L116.2 377.8L116.6 376.3L117.0 379.9L117.5 379.6L117.9 374.1L118.3 375.9L118.8 371.2L119.2 372.1L119.6 367.5L120.1 363.2L120.5 360.5L120.9 345.4L121.3 360.7L121.8 344.2L122.2 360.8L122.6 359.1L123.1 361.1L123.5 358.7L123.9 358.8L124.4 366.2L124.8 368.4L125.2 367.8L125.7 367.8L126.1 367.6L126.5 356.9L127.0 360.3L127.4 369.6L127.8 362.0L128.2 368.4L128.7 368.7L129.1 372.8L129.5 375.1L130.0 369.5L130.4 374.1L130.8 376.4L131.3 372.9L131.7 363.8L132.1 373.4L132.6 371.8L133.0 359.3L133.4 367.5L133.9 370.4L134.3 376.5L134.7 378.6L135.1 377.1L135.6 380.6L136.0 377.8L136.4 383.3L136.9 379.1L137.3 381.7L137.7 382.1L138.2 385.1L138.6 386.5L139.0 387.2L139.5 388.2L139.9 388.0L140.3 389.0L140.8 387.7L141.2 390.4L141.6 390.6L142.0 390.7L142.5 390.2L142.9 391.3L143.3 391.8L143.8 391.9L144.2 392.0L144.6 392.7L145.1 392.3L145.5 388.8L145.9 389.7L146.4 389.4L146.8 388.4L147.2 389.8L147.7 388.4L148.1 388.9L148.5 390.4L148.9 388.6L149.4 388.3L149.8 388.2L150.2 390.6L150.7 388.6L151.1 390.9L151.5 388.8L152.0 389.2L152.4 388.1L152.8 390.7L153.3 387.9L153.7 390.1L154.1 387.9L154.5 389.3L155.0 389.1L155.4 388.6L155.8 388.7L156.3 389.6L156.7 387.5L157.1 388.9L157.6 389.4L158.0 389.3L158.4 388.8L158.9 391.1L159.3 391.3L159.7 391.9L160.2 391.1L160.6 391.3L161.0 391.1L161.4 390.2L161.9 392.2L162.3 391.6L162.7 392.1L163.2 390.0L163.6 391.7L164.0 391.2L164.5 390.3L164.9 391.6L165.3 390.4L165.8 390.1L166.2 390.7L166.6 391.5L167.1 389.4L167.5 386.9L167.9 388.9L168.3 388.1L168.8 387.3L169.2 386.4L169.6 386.6L170.1 385.1L170.5 387.0L170.9 386.5L171.4 383.5L171.8 383.9L172.2 380.3L172.7 372.8L173.1 380.4L173.5 380.1L174.0 369.5L174.4 375.6L174.8 373.7L175.2 372.4L175.7 369.0L176.1 371.0L176.5 363.5L177.0 374.0L177.4 373.5L177.4 396.0Z"/>
<path class="k2" d="M145.57 391.5L145.72 310.0L146.32 310.0L146.47 391.5ZM120.46 362.9L120.61 347.5L121.21 347.5L121.36 362.9ZM112.93 384.8L113.08 356.2L113.68 356.2L113.83 384.8ZM131.76 373.5L131.91 360.0L132.51 360.0L132.66 373.5Z"/>
<path class="a" d="M65.3 396.0L65.3 395.7L68.8 395.6L72.0 394.0L76.3 394.0L80.1 393.8L82.0 394.8L83.9 394.0L88.3 393.8L91.4 391.9L94.5 390.0L96.2 386.9L97.4 383.1L98.7 386.2L100.2 387.5L101.7 386.0L103.3 387.2L105.2 385.6L106.7 386.0L108.4 383.8L110.2 385.0L112.1 386.2L113.8 384.4L114.6 380.0L115.9 382.5L117.5 380.0L119.0 373.8L120.3 365.0L121.8 360.0L123.0 363.1L124.7 369.4L126.3 367.8L127.8 371.9L129.3 374.4L130.3 378.8L131.6 374.4L133.1 372.2L134.3 377.5L135.3 381.9L137.2 384.4L139.1 388.1L141.6 391.2L144.8 393.1L146.6 390.6L149.8 390.6L152.3 391.2L154.2 390.2L157.9 390.6L159.8 392.2L163.0 392.5L166.1 391.9L168.6 390.0L171.1 386.9L173.0 381.9L174.9 377.5L177.4 374.4L177.4 396.0Z"/>
</g>
<line class="x" x1="65.3" y1="396.0" x2="177.4" y2="396.0"/>
<path class="l" d="M65.3 395.7L68.8 395.6L72.0 394.0L76.3 394.0L80.1 393.8L82.0 394.8L83.9 394.0L88.3 393.8L91.4 391.9L94.5 390.0L96.2 386.9L97.4 383.1L98.7 386.2L100.2 387.5L101.7 386.0L103.3 387.2L105.2 385.6L106.7 386.0L108.4 383.8L110.2 385.0L112.1 386.2L113.8 384.4L114.6 380.0L115.9 382.5L117.5 380.0L119.0 373.8L120.3 365.0L121.8 360.0L123.0 363.1L124.7 369.4L126.3 367.8L127.8 371.9L129.3 374.4L130.3 378.8L131.6 374.4L133.1 372.2L134.3 377.5L135.3 381.9L137.2 384.4L139.1 388.1L141.6 391.2L144.8 393.1L146.6 390.6L149.8 390.6L152.3 391.2L154.2 390.2L157.9 390.6L159.8 392.2L163.0 392.5L166.1 391.9L168.6 390.0L171.1 386.9L173.0 381.9L174.9 377.5L177.4 374.4"/>
<circle class="c" cx="177.4" cy="374.4" r="3.5"/>
<text class="v" transform="translate(177.4 368.1) scale(1.12 1)">47</text>
<text class="n" transform="translate(129.1 266.8) scale(1.085 1)">Missouri</text>
<text class="p" x="129.1" y="288.6">+18%</text>
</g>
<g>
<g clip-path="url(#cp1)">
<path class="k" d="M220.9 396.0L220.9 395.4L221.4 395.3L221.8 395.3L222.2 395.4L222.7 395.5L223.1 395.3L223.5 395.4L224.0 395.3L224.4 394.7L224.8 395.1L225.3 393.8L225.7 394.7L226.1 393.0L226.6 393.4L227.0 393.5L227.4 393.0L227.8 392.4L228.3 392.9L228.7 393.8L229.1 393.4L229.6 392.7L230.0 393.8L230.4 393.5L230.9 393.7L231.3 393.7L231.7 393.7L232.2 393.4L232.6 393.4L233.0 393.4L233.5 393.1L233.9 393.7L234.3 393.2L234.7 393.2L235.2 390.2L235.6 393.4L236.0 393.0L236.5 393.0L236.9 393.0L237.3 392.5L237.8 392.8L238.2 393.9L238.6 393.7L239.1 393.3L239.5 393.3L239.9 393.5L240.4 394.3L240.8 393.6L241.2 391.8L241.6 393.2L242.1 392.8L242.5 392.0L242.9 391.9L243.4 391.4L243.8 391.4L244.2 389.3L244.7 390.8L245.1 389.8L245.5 386.3L246.0 389.3L246.4 390.1L246.8 385.2L247.3 388.6L247.7 388.0L248.1 383.4L248.5 382.5L249.0 385.0L249.4 386.5L249.8 385.5L250.3 386.7L250.7 382.4L251.1 383.6L251.6 384.6L252.0 375.2L252.4 383.0L252.9 382.5L253.3 379.4L253.7 377.3L254.1 384.9L254.6 380.4L255.0 381.1L255.4 383.9L255.9 378.9L256.3 383.6L256.7 387.5L257.2 384.9L257.6 384.4L258.0 384.5L258.5 386.3L258.9 377.0L259.3 381.5L259.8 386.5L260.2 386.3L260.6 386.2L261.0 385.9L261.5 382.5L261.9 378.1L262.3 379.6L262.8 384.7L263.2 383.0L263.6 372.3L264.1 381.7L264.5 381.8L264.9 381.3L265.4 371.3L265.8 376.1L266.2 382.6L266.7 379.5L267.1 379.5L267.5 382.7L267.9 382.2L268.4 374.7L268.8 381.3L269.2 379.2L269.7 381.0L270.1 376.1L270.5 372.4L271.0 380.3L271.4 379.2L271.8 370.4L272.3 374.6L272.7 374.1L273.1 380.9L273.6 381.2L274.0 369.8L274.4 352.1L274.8 355.5L275.3 367.8L275.7 372.0L276.1 369.0L276.6 338.7L277.0 332.5L277.4 361.5L277.9 360.1L278.3 358.3L278.7 345.9L279.2 359.5L279.6 361.3L280.0 362.1L280.4 352.9L280.9 361.1L281.3 359.6L281.7 356.0L282.2 347.2L282.6 347.2L283.0 355.8L283.5 335.2L283.9 349.3L284.3 346.3L284.8 345.6L285.2 341.1L285.6 361.7L286.1 360.5L286.5 336.9L286.9 354.4L287.3 346.5L287.8 346.9L288.2 322.2L288.6 341.2L289.1 340.5L289.5 348.9L289.9 349.8L290.4 344.6L290.8 359.9L291.2 359.0L291.7 362.4L292.1 348.2L292.5 364.5L293.0 360.1L293.4 367.3L293.8 354.7L294.2 369.9L294.7 370.7L295.1 372.4L295.5 367.0L296.0 377.3L296.4 370.0L296.8 378.8L297.3 383.7L297.7 384.6L298.1 382.4L298.6 386.1L299.0 383.8L299.4 387.2L299.9 386.5L300.3 382.9L300.7 388.0L301.1 388.7L301.6 389.1L302.0 384.8L302.4 386.5L302.9 385.6L303.3 388.9L303.7 389.3L304.2 389.2L304.6 390.7L305.0 389.1L305.5 390.9L305.9 390.8L306.3 388.2L306.7 390.1L307.2 386.4L307.6 389.3L308.0 388.1L308.5 388.7L308.9 389.9L309.3 390.9L309.8 391.2L310.2 390.7L310.6 392.2L311.1 391.0L311.5 392.6L311.9 391.9L312.4 391.4L312.8 392.4L313.2 389.4L313.6 390.6L314.1 392.9L314.5 391.7L314.9 391.1L315.4 392.3L315.8 392.8L316.2 392.8L316.7 393.0L317.1 392.5L317.5 391.4L318.0 392.6L318.4 392.1L318.8 390.5L319.3 391.1L319.7 392.6L320.1 391.1L320.5 393.2L321.0 393.3L321.4 392.9L321.8 393.5L322.3 391.6L322.7 392.1L323.1 392.2L323.6 391.4L324.0 392.6L324.4 391.1L324.9 392.7L325.3 391.6L325.7 390.9L326.2 391.8L326.6 390.4L327.0 389.9L327.4 388.9L327.9 389.9L328.3 379.3L328.7 385.9L329.2 384.6L329.6 381.2L330.0 383.9L330.5 373.9L330.9 374.2L331.3 364.2L331.8 379.0L332.2 370.2L332.6 371.1L333.0 374.9L333.0 396.0Z"/>
<path class="k2" d="M279.25 363.0L279.40 315.0L280.00 315.0L280.15 363.0ZM287.41 347.5L287.56 312.5L288.16 312.5L288.31 347.5ZM332.60 375.2L332.75 330.0L333.35 330.0L333.50 375.2ZM274.23 377.5L274.38 343.8L274.98 343.8L275.13 377.5ZM283.64 355.9L283.79 337.5L284.39 337.5L284.54 355.9ZM251.63 386.1L251.78 375.0L252.38 375.0L252.53 386.1Z"/>
<path class="a" d="M220.9 396.0L220.9 395.7L224.5 395.2L228.2 393.8L231.4 394.8L234.5 393.8L237.6 393.8L240.8 394.8L242.7 393.1L244.5 391.2L247.1 390.0L249.3 386.5L251.5 388.1L253.1 382.8L254.6 386.2L256.5 387.8L259.0 387.2L261.5 386.0L263.4 384.8L264.9 381.9L266.5 383.8L268.4 382.8L270.3 381.5L271.5 380.0L273.2 382.8L274.4 378.8L275.7 372.5L277.2 362.5L278.7 357.8L279.9 364.4L281.2 360.6L282.8 358.8L284.5 355.0L285.7 364.4L286.7 356.2L288.0 346.5L289.2 346.9L290.2 356.2L291.2 365.0L292.5 364.8L293.8 369.4L295.0 372.5L296.3 380.0L297.5 385.6L299.8 387.5L302.3 390.0L304.8 391.9L307.9 390.6L310.5 392.5L313.6 393.1L317.4 393.8L321.1 393.8L324.3 393.1L326.8 392.2L328.7 388.8L330.5 383.1L332.2 378.1L333.0 375.2L333.0 396.0Z"/>
</g>
<line class="x" x1="220.9" y1="396.0" x2="333.0" y2="396.0"/>
<path class="l" d="M220.9 395.7L224.5 395.2L228.2 393.8L231.4 394.8L234.5 393.8L237.6 393.8L240.8 394.8L242.7 393.1L244.5 391.2L247.1 390.0L249.3 386.5L251.5 388.1L253.1 382.8L254.6 386.2L256.5 387.8L259.0 387.2L261.5 386.0L263.4 384.8L264.9 381.9L266.5 383.8L268.4 382.8L270.3 381.5L271.5 380.0L273.2 382.8L274.4 378.8L275.7 372.5L277.2 362.5L278.7 357.8L279.9 364.4L281.2 360.6L282.8 358.8L284.5 355.0L285.7 364.4L286.7 356.2L288.0 346.5L289.2 346.9L290.2 356.2L291.2 365.0L292.5 364.8L293.8 369.4L295.0 372.5L296.3 380.0L297.5 385.6L299.8 387.5L302.3 390.0L304.8 391.9L307.9 390.6L310.5 392.5L313.6 393.1L317.4 393.8L321.1 393.8L324.3 393.1L326.8 392.2L328.7 388.8L330.5 383.1L332.2 378.1L333.0 375.2"/>
<circle class="c" cx="333.0" cy="375.2" r="3.5"/>
<text class="v" transform="translate(333.0 368.9) scale(1.12 1)">44</text>
<text class="n" transform="translate(284.8 266.8) scale(1.085 1)">Oklahoma</text>
<text class="p" x="284.8" y="288.6">+42%</text>
</g>
<g>
<g clip-path="url(#cp1)">
<path class="k" d="M376.6 396.0L376.6 395.7L377.0 395.7L377.5 395.5L377.9 395.6L378.3 395.1L378.8 395.4L379.2 395.4L379.6 395.4L380.0 395.3L380.5 394.7L380.9 393.8L381.3 393.5L381.8 394.2L382.2 393.2L382.6 393.5L383.1 393.4L383.5 392.8L383.9 392.8L384.4 392.8L384.8 392.3L385.2 392.4L385.7 393.4L386.1 391.7L386.5 393.2L386.9 393.1L387.4 392.0L387.8 393.4L388.2 393.0L388.7 393.1L389.1 392.9L389.5 393.1L390.0 392.3L390.4 392.8L390.8 391.8L391.3 392.2L391.7 393.0L392.1 393.0L392.6 392.4L393.0 392.8L393.4 392.3L393.8 392.5L394.3 392.7L394.7 392.0L395.1 391.6L395.6 391.0L396.0 391.8L396.4 390.6L396.9 391.0L397.3 388.0L397.7 388.2L398.2 389.9L398.6 388.9L399.0 387.2L399.5 388.0L399.9 386.2L400.3 384.0L400.7 378.3L401.2 383.4L401.6 375.7L402.0 380.2L402.5 373.9L402.9 377.0L403.3 378.2L403.8 380.3L404.2 378.2L404.6 376.8L405.1 375.6L405.5 377.0L405.9 378.0L406.3 377.7L406.8 372.7L407.2 372.6L407.6 379.5L408.1 379.6L408.5 379.7L408.9 379.9L409.4 374.7L409.8 380.1L410.2 382.4L410.7 383.7L411.1 383.1L411.5 384.9L412.0 384.4L412.4 385.6L412.8 386.1L413.2 387.5L413.7 387.7L414.1 387.9L414.5 387.9L415.0 385.8L415.4 387.3L415.8 382.1L416.3 386.0L416.7 378.5L417.1 386.4L417.6 383.3L418.0 385.4L418.4 383.7L418.9 383.5L419.3 379.5L419.7 380.7L420.1 384.3L420.6 381.9L421.0 383.6L421.4 386.0L421.9 385.2L422.3 385.2L422.7 385.9L423.2 385.7L423.6 383.7L424.0 384.6L424.5 386.2L424.9 385.7L425.3 386.6L425.8 386.6L426.2 386.4L426.6 385.1L427.0 386.3L427.5 384.8L427.9 383.6L428.3 385.3L428.8 383.6L429.2 383.3L429.6 385.2L430.1 384.1L430.5 382.1L430.9 383.8L431.4 382.3L431.8 377.9L432.2 381.0L432.7 378.8L433.1 380.9L433.5 380.4L433.9 375.5L434.4 379.8L434.8 379.6L435.2 380.6L435.7 379.2L436.1 365.0L436.5 369.8L437.0 373.7L437.4 361.4L437.8 361.3L438.3 368.7L438.7 364.9L439.1 365.6L439.5 360.9L440.0 366.1L440.4 359.3L440.8 355.9L441.3 369.3L441.7 364.2L442.1 361.6L442.6 358.1L443.0 347.6L443.4 342.6L443.9 341.8L444.3 349.1L444.7 342.0L445.2 339.7L445.6 350.7L446.0 336.9L446.4 335.4L446.9 354.5L447.3 352.9L447.7 351.1L448.2 347.1L448.6 352.0L449.0 352.4L449.5 352.0L449.9 358.0L450.3 364.7L450.8 362.9L451.2 365.6L451.6 364.4L452.1 367.9L452.5 367.6L452.9 354.1L453.3 371.7L453.8 372.3L454.2 371.1L454.6 374.0L455.1 374.0L455.5 379.5L455.9 379.7L456.4 382.8L456.8 383.5L457.2 383.6L457.7 384.2L458.1 384.6L458.5 385.0L459.0 384.1L459.4 381.6L459.8 385.6L460.2 384.7L460.7 385.8L461.1 383.9L461.5 383.7L462.0 380.2L462.4 382.5L462.8 384.8L463.3 385.1L463.7 384.5L464.1 384.0L464.6 383.2L465.0 385.2L465.4 386.3L465.8 386.3L466.3 386.3L466.7 387.2L467.1 385.0L467.6 385.7L468.0 385.4L468.4 387.3L468.9 385.1L469.3 388.1L469.7 387.4L470.2 389.2L470.6 387.5L471.0 388.9L471.5 386.7L471.9 389.7L472.3 386.4L472.7 390.6L473.2 390.5L473.6 390.8L474.0 390.7L474.5 391.4L474.9 392.2L475.3 391.7L475.8 393.1L476.2 392.5L476.6 392.6L477.1 393.3L477.5 393.5L477.9 393.9L478.4 393.5L478.8 393.6L479.2 394.2L479.6 393.8L480.1 393.9L480.5 394.2L480.9 393.8L481.4 392.5L481.8 393.5L482.2 392.2L482.7 392.9L483.1 392.0L483.5 391.2L484.0 391.6L484.4 391.7L484.8 390.7L485.3 389.8L485.7 388.3L486.1 386.8L486.5 384.0L487.0 384.8L487.4 382.3L487.8 376.0L488.3 376.9L488.7 373.8L488.7 396.0Z"/>
<path class="k2" d="M441.53 365.9L441.68 317.5L442.28 317.5L442.43 365.9ZM488.50 376.0L488.65 335.0L489.25 335.0L489.40 376.0ZM440.28 368.1L440.43 328.8L441.03 328.8L441.18 368.1ZM418.99 384.8L419.14 372.5L419.74 372.5L419.89 384.8Z"/>
<path class="a" d="M376.6 396.0L376.6 395.7L380.0 395.4L383.1 393.8L386.9 393.8L390.6 393.8L394.4 393.8L396.9 391.9L399.4 388.1L401.9 382.5L403.2 380.2L404.2 381.5L405.7 378.1L407.2 379.4L408.8 381.9L410.7 384.4L412.5 388.1L414.4 388.5L416.3 386.2L417.9 387.2L419.4 384.8L420.9 386.9L422.6 386.2L424.4 387.2L427.0 386.5L429.5 386.0L431.3 383.8L433.2 381.0L435.1 382.5L436.3 376.2L437.6 371.2L439.2 368.1L440.5 366.9L441.2 370.6L442.2 364.4L443.2 353.8L444.0 348.1L445.0 351.9L446.0 350.6L447.2 356.2L448.5 361.2L450.1 365.0L451.4 366.9L452.6 370.6L453.9 373.8L455.1 380.0L457.0 385.0L459.5 386.0L462.0 385.6L465.2 386.9L468.3 388.1L471.4 390.2L474.5 392.5L477.7 394.4L479.8 395.0L482.1 393.8L484.6 391.9L486.1 389.4L487.3 383.8L488.3 378.8L488.7 376.0L488.7 396.0Z"/>
</g>
<line class="x" x1="376.6" y1="396.0" x2="488.7" y2="396.0"/>
<path class="l" d="M376.6 395.7L380.0 395.4L383.1 393.8L386.9 393.8L390.6 393.8L394.4 393.8L396.9 391.9L399.4 388.1L401.9 382.5L403.2 380.2L404.2 381.5L405.7 378.1L407.2 379.4L408.8 381.9L410.7 384.4L412.5 388.1L414.4 388.5L416.3 386.2L417.9 387.2L419.4 384.8L420.9 386.9L422.6 386.2L424.4 387.2L427.0 386.5L429.5 386.0L431.3 383.8L433.2 381.0L435.1 382.5L436.3 376.2L437.6 371.2L439.2 368.1L440.5 366.9L441.2 370.6L442.2 364.4L443.2 353.8L444.0 348.1L445.0 351.9L446.0 350.6L447.2 356.2L448.5 361.2L450.1 365.0L451.4 366.9L452.6 370.6L453.9 373.8L455.1 380.0L457.0 385.0L459.5 386.0L462.0 385.6L465.2 386.9L468.3 388.1L471.4 390.2L474.5 392.5L477.7 394.4L479.8 395.0L482.1 393.8L484.6 391.9L486.1 389.4L487.3 383.8L488.3 378.8L488.7 376.0"/>
<circle class="c" cx="488.7" cy="376.0" r="3.5"/>
<text class="v" transform="translate(488.7 369.7) scale(1.12 1)">42</text>
<text class="n" transform="translate(440.4 266.8) scale(1.085 1)">South Carolina</text>
<text class="p" x="440.4" y="288.6">+81%</text>
</g>
<g>
<g clip-path="url(#cp1)">
<path class="k" d="M532.2 396.0L532.2 395.6L532.7 395.7L533.1 395.5L533.5 395.6L534.0 395.3L534.4 395.5L534.8 395.4L535.3 395.4L535.7 395.2L536.1 395.2L536.6 395.3L537.0 395.0L537.4 395.0L537.9 393.9L538.3 394.0L538.7 392.9L539.1 394.2L539.6 393.3L540.0 392.7L540.4 391.6L540.9 393.7L541.3 392.7L541.7 392.6L542.2 393.2L542.6 392.4L543.0 391.8L543.5 392.8L543.9 393.2L544.3 392.7L544.8 392.2L545.2 393.4L545.6 391.0L546.0 392.8L546.5 391.4L546.9 392.7L547.3 392.2L547.8 392.5L548.2 391.3L548.6 391.1L549.1 392.8L549.5 392.5L549.9 392.3L550.4 393.5L550.8 392.8L551.2 392.1L551.7 392.5L552.1 393.1L552.5 393.1L552.9 392.3L553.4 391.6L553.8 392.4L554.2 392.0L554.7 391.2L555.1 386.2L555.5 390.7L556.0 389.2L556.4 386.3L556.8 387.9L557.3 384.5L557.7 386.5L558.1 374.9L558.6 383.1L559.0 382.7L559.4 378.5L559.8 382.3L560.3 380.8L560.7 373.8L561.1 377.4L561.6 378.8L562.0 378.7L562.4 380.0L562.9 377.4L563.3 381.0L563.7 379.6L564.2 378.2L564.6 381.5L565.0 374.9L565.4 378.7L565.9 375.5L566.3 382.4L566.7 376.1L567.2 383.2L567.6 383.6L568.0 382.2L568.5 382.8L568.9 383.1L569.3 381.0L569.8 384.4L570.2 385.3L570.6 385.1L571.1 383.4L571.5 386.7L571.9 387.1L572.3 383.8L572.8 387.3L573.2 386.3L573.6 388.3L574.1 389.2L574.5 388.8L574.9 390.2L575.4 388.4L575.8 388.3L576.2 386.0L576.7 386.7L577.1 387.4L577.5 384.6L578.0 387.4L578.4 380.1L578.8 388.2L579.2 387.0L579.7 387.5L580.1 387.2L580.5 381.0L581.0 385.2L581.4 384.2L581.8 385.8L582.3 385.6L582.7 385.9L583.1 383.3L583.6 382.3L584.0 383.4L584.4 384.6L584.9 381.6L585.3 382.3L585.7 381.5L586.1 378.9L586.6 380.4L587.0 379.2L587.4 375.7L587.9 369.7L588.3 378.5L588.7 378.7L589.2 385.0L589.6 366.7L590.0 374.8L590.5 368.9L590.9 362.1L591.3 372.4L591.7 376.2L592.2 370.6L592.6 369.6L593.0 369.0L593.5 370.4L593.9 371.5L594.3 368.1L594.8 363.6L595.2 365.9L595.6 359.0L596.1 359.6L596.5 367.2L596.9 369.8L597.4 368.8L597.8 365.6L598.2 353.5L598.6 352.8L599.1 362.3L599.5 360.8L599.9 357.3L600.4 357.1L600.8 358.6L601.2 335.4L601.7 358.2L602.1 350.5L602.5 362.4L603.0 351.9L603.4 364.4L603.8 365.1L604.3 364.6L604.7 363.5L605.1 364.2L605.5 353.9L606.0 368.8L606.4 371.2L606.8 373.2L607.3 377.1L607.7 376.7L608.1 379.9L608.6 380.9L609.0 387.4L609.4 387.7L609.9 383.1L610.3 382.8L610.7 383.5L611.2 377.8L611.6 383.1L612.0 385.8L612.4 383.1L612.9 386.1L613.3 386.4L613.7 386.3L614.2 388.7L614.6 386.0L615.0 388.8L615.5 388.3L615.9 389.5L616.3 389.1L616.8 388.5L617.2 385.9L617.6 388.1L618.0 389.1L618.5 389.5L618.9 389.5L619.3 387.0L619.8 389.0L620.2 389.9L620.6 389.1L621.1 385.6L621.5 390.2L621.9 388.8L622.4 390.2L622.8 389.6L623.2 390.0L623.7 387.3L624.1 389.6L624.5 388.7L624.9 391.1L625.4 390.9L625.8 390.9L626.2 391.3L626.7 391.2L627.1 391.5L627.5 391.6L628.0 392.4L628.4 392.7L628.8 392.4L629.3 392.2L629.7 391.3L630.1 392.0L630.6 391.8L631.0 393.2L631.4 391.5L631.8 390.8L632.3 391.4L632.7 393.0L633.1 391.1L633.6 392.5L634.0 393.2L634.4 393.3L634.9 392.9L635.3 392.1L635.7 391.6L636.2 392.6L636.6 392.8L637.0 392.0L637.5 392.3L637.9 392.5L638.3 391.9L638.7 392.6L639.2 391.8L639.6 392.4L640.0 391.2L640.5 389.9L640.9 388.1L641.3 384.4L641.8 384.7L642.2 385.7L642.6 385.2L643.1 380.0L643.5 380.3L643.9 371.4L644.4 374.0L644.4 396.0Z"/>
<path class="k2" d="M585.15 382.9L585.30 310.0L585.90 310.0L586.05 382.9ZM589.17 377.5L589.32 312.5L589.92 312.5L590.07 377.5ZM599.59 359.0L599.74 346.2L600.34 346.2L600.49 359.0ZM602.73 365.1L602.88 345.0L603.48 345.0L603.63 365.1ZM560.67 380.7L560.82 371.2L561.42 371.2L561.57 380.7ZM575.11 389.7L575.26 371.2L575.86 371.2L576.01 389.7Z"/>
<path class="a" d="M532.2 396.0L532.2 395.7L536.6 395.4L540.4 393.8L544.2 393.8L547.9 393.8L551.7 393.5L554.2 392.8L556.1 390.0L558.6 385.0L560.7 380.6L562.8 381.0L564.3 383.1L565.8 381.2L567.4 385.0L568.7 383.8L570.5 386.9L573.0 389.4L574.9 390.2L576.8 388.8L579.3 388.1L581.8 386.9L584.3 385.0L586.2 381.9L587.9 378.1L588.9 380.0L589.1 388.1L589.6 377.5L590.6 372.5L591.9 376.9L592.9 371.9L594.4 372.5L595.9 370.0L596.9 375.6L597.9 368.8L599.2 362.5L600.2 358.5L601.7 359.4L602.9 365.0L604.4 365.6L605.7 370.0L606.9 375.6L608.2 383.8L609.2 388.8L610.5 383.1L612.2 386.2L614.5 389.4L617.0 390.2L620.1 390.0L623.3 390.6L626.4 392.2L629.5 393.5L632.0 393.1L634.6 394.0L637.1 393.5L639.6 393.1L641.5 390.0L643.1 383.8L644.4 378.1L644.4 396.0Z"/>
</g>
<line class="x" x1="532.2" y1="396.0" x2="644.4" y2="396.0"/>
<path class="l" d="M532.2 395.7L536.6 395.4L540.4 393.8L544.2 393.8L547.9 393.8L551.7 393.5L554.2 392.8L556.1 390.0L558.6 385.0L560.7 380.6L562.8 381.0L564.3 383.1L565.8 381.2L567.4 385.0L568.7 383.8L570.5 386.9L573.0 389.4L574.9 390.2L576.8 388.8L579.3 388.1L581.8 386.9L584.3 385.0L586.2 381.9L587.9 378.1L588.9 380.0L589.1 388.1L589.6 377.5L590.6 372.5L591.9 376.9L592.9 371.9L594.4 372.5L595.9 370.0L596.9 375.6L597.9 368.8L599.2 362.5L600.2 358.5L601.7 359.4L602.9 365.0L604.4 365.6L605.7 370.0L606.9 375.6L608.2 383.8L609.2 388.8L610.5 383.1L612.2 386.2L614.5 389.4L617.0 390.2L620.1 390.0L623.3 390.6L626.4 392.2L629.5 393.5L632.0 393.1L634.6 394.0L637.1 393.5L639.6 393.1L641.5 390.0L643.1 383.8L644.4 378.1"/>
<circle class="c" cx="644.4" cy="378.1" r="3.5"/>
<text class="v" transform="translate(644.4 371.8) scale(1.12 1)">38</text>
<text class="n" transform="translate(596.1 266.8) scale(1.085 1)">Texas</text>
<text class="p" x="596.1" y="288.6">+61%</text>
</g>
<g>
<g clip-path="url(#cp1)">
<path class="k" d="M687.9 396.0L687.9 395.7L688.3 395.4L688.8 395.6L689.2 395.3L689.6 395.4L690.1 395.4L690.5 395.1L690.9 395.0L691.3 394.9L691.8 394.5L692.2 394.8L692.6 393.8L693.1 394.1L693.5 394.2L693.9 394.5L694.4 394.4L694.8 393.7L695.2 394.3L695.7 394.6L696.1 394.0L696.5 392.4L697.0 394.7L697.4 393.0L697.8 393.2L698.2 394.4L698.7 393.4L699.1 394.1L699.5 393.8L700.0 394.1L700.4 393.7L700.8 395.1L701.3 395.2L701.7 395.4L702.1 395.2L702.6 395.5L703.0 395.5L703.4 395.3L703.9 395.3L704.3 395.4L704.7 394.8L705.1 395.3L705.6 395.3L706.0 394.7L706.4 395.2L706.9 394.5L707.3 395.0L707.7 394.8L708.2 394.1L708.6 394.2L709.0 394.1L709.5 394.0L709.9 394.2L710.3 393.2L710.8 393.4L711.2 394.2L711.6 394.1L712.0 392.8L712.5 393.4L712.9 391.9L713.3 393.1L713.8 392.3L714.2 392.9L714.6 391.1L715.1 392.5L715.5 390.5L715.9 391.0L716.4 389.7L716.8 388.6L717.2 387.3L717.6 383.4L718.1 387.3L718.5 385.4L718.9 383.4L719.4 386.1L719.8 384.2L720.2 383.6L720.7 385.3L721.1 388.4L721.5 390.0L722.0 387.5L722.4 390.7L722.8 390.7L723.3 387.0L723.7 390.7L724.1 388.3L724.5 390.6L725.0 390.4L725.4 390.1L725.8 387.9L726.3 389.8L726.7 387.6L727.1 388.5L727.6 389.2L728.0 390.1L728.4 389.6L728.9 390.0L729.3 385.6L729.7 384.7L730.2 385.6L730.6 387.6L731.0 386.6L731.4 387.0L731.9 387.4L732.3 388.8L732.7 386.6L733.2 384.8L733.6 386.0L734.0 386.4L734.5 385.6L734.9 384.6L735.3 380.6L735.8 378.6L736.2 381.8L736.6 383.0L737.1 382.5L737.5 380.5L737.9 373.7L738.3 377.8L738.8 358.1L739.2 369.9L739.6 372.2L740.1 371.0L740.5 360.7L740.9 369.6L741.4 360.2L741.8 365.8L742.2 348.1L742.7 361.3L743.1 360.1L743.5 343.8L744.0 339.7L744.4 358.0L744.8 343.7L745.2 356.5L745.7 322.1L746.1 325.8L746.5 334.9L747.0 351.6L747.4 343.6L747.8 341.9L748.3 322.4L748.7 352.0L749.1 326.4L749.6 342.0L750.0 348.9L750.4 353.1L750.8 351.2L751.3 366.6L751.7 369.9L752.1 375.9L752.6 378.5L753.0 364.3L753.4 375.1L753.9 360.6L754.3 371.8L754.7 371.9L755.2 367.9L755.6 374.6L756.0 376.3L756.5 371.4L756.9 376.5L757.3 374.7L757.7 380.2L758.2 372.0L758.6 377.9L759.0 379.9L759.5 383.1L759.9 384.6L760.3 378.4L760.8 379.3L761.2 385.9L761.6 376.5L762.1 379.8L762.5 386.9L762.9 387.8L763.4 387.9L763.8 387.2L764.2 387.2L764.6 386.8L765.1 386.4L765.5 384.5L765.9 385.2L766.4 386.6L766.8 385.4L767.2 382.8L767.7 387.2L768.1 386.9L768.5 382.6L769.0 387.0L769.4 381.3L769.8 386.6L770.3 380.1L770.7 385.9L771.1 382.7L771.5 384.9L772.0 386.0L772.4 382.4L772.8 379.6L773.3 371.7L773.7 382.3L774.1 380.5L774.6 374.6L775.0 378.1L775.4 381.1L775.9 373.3L776.3 378.7L776.7 383.7L777.1 382.9L777.6 377.8L778.0 385.7L778.4 385.1L778.9 379.8L779.3 384.9L779.7 384.3L780.2 384.9L780.6 385.1L781.0 387.7L781.5 388.3L781.9 384.8L782.3 384.7L782.8 390.1L783.2 388.3L783.6 386.6L784.0 390.4L784.5 388.6L784.9 387.8L785.3 388.8L785.8 390.5L786.2 390.8L786.6 392.7L787.1 392.5L787.5 391.0L787.9 390.2L788.4 390.4L788.8 392.9L789.2 392.2L789.7 392.1L790.1 390.3L790.5 390.5L790.9 391.3L791.4 391.0L791.8 392.5L792.2 391.1L792.7 391.2L793.1 391.5L793.5 392.9L794.0 391.1L794.4 390.0L794.8 390.2L795.3 389.8L795.7 389.3L796.1 381.2L796.6 386.0L797.0 385.3L797.4 383.9L797.8 382.4L798.3 375.0L798.7 374.4L799.1 372.7L799.6 377.7L800.0 370.4L800.0 396.0Z"/>
<path class="k2" d="M783.59 390.8L783.74 307.5L784.34 307.5L784.49 390.8ZM744.63 363.1L744.78 330.0L745.38 330.0L745.53 363.1ZM747.77 351.3L747.92 335.0L748.52 335.0L748.67 351.3ZM799.30 378.1L799.45 347.5L800.05 347.5L800.20 378.1ZM716.35 389.1L716.50 367.5L717.10 367.5L717.25 389.1ZM760.97 386.2L761.12 372.5L761.72 372.5L761.87 386.2Z"/>
<path class="a" d="M687.9 396.0L687.9 395.7L692.3 395.0L696.1 394.8L699.8 394.8L702.4 395.6L706.1 395.2L709.9 394.8L713.0 394.4L715.5 392.5L717.2 388.1L718.7 386.9L720.2 387.5L721.8 390.6L724.3 391.2L726.9 390.6L729.4 390.6L731.9 390.0L733.8 387.5L735.7 383.8L737.5 382.5L739.0 375.0L740.3 371.2L741.6 368.1L742.8 361.2L744.1 356.9L745.1 363.1L746.3 355.0L747.8 349.8L748.9 353.8L750.1 362.5L751.4 371.2L752.6 380.0L753.6 375.0L754.9 372.5L756.1 377.5L757.6 381.2L759.5 384.4L761.4 386.2L763.3 388.8L765.2 386.9L767.7 387.5L770.2 386.9L772.5 386.2L773.7 382.5L775.2 384.4L777.1 385.6L779.0 386.2L780.9 388.8L782.8 391.2L784.7 390.6L786.6 393.5L789.1 393.1L791.6 392.8L794.1 393.1L796.0 390.0L797.6 383.8L798.9 380.0L800.0 377.5L800.0 396.0Z"/>
</g>
<line class="x" x1="687.9" y1="396.0" x2="800.0" y2="396.0"/>
<path class="l" d="M687.9 395.7L692.3 395.0L696.1 394.8L699.8 394.8L702.4 395.6L706.1 395.2L709.9 394.8L713.0 394.4L715.5 392.5L717.2 388.1L718.7 386.9L720.2 387.5L721.8 390.6L724.3 391.2L726.9 390.6L729.4 390.6L731.9 390.0L733.8 387.5L735.7 383.8L737.5 382.5L739.0 375.0L740.3 371.2L741.6 368.1L742.8 361.2L744.1 356.9L745.1 363.1L746.3 355.0L747.8 349.8L748.9 353.8L750.1 362.5L751.4 371.2L752.6 380.0L753.6 375.0L754.9 372.5L756.1 377.5L757.6 381.2L759.5 384.4L761.4 386.2L763.3 388.8L765.2 386.9L767.7 387.5L770.2 386.9L772.5 386.2L773.7 382.5L775.2 384.4L777.1 385.6L779.0 386.2L780.9 388.8L782.8 391.2L784.7 390.6L786.6 393.5L789.1 393.1L791.6 392.8L794.1 393.1L796.0 390.0L797.6 383.8L798.9 380.0L800.0 377.5"/>
<circle class="c" cx="800.0" cy="377.5" r="3.5"/>
<text class="v" transform="translate(800.0 371.2) scale(1.12 1)">38</text>
<text class="n" transform="translate(751.7 266.8) scale(1.085 1)">Alaska</text>
<text class="p" x="751.7" y="288.6">+27%</text>
</g>
<g>
<g clip-path="url(#cp1)">
<path class="k" d="M843.5 396.0L843.5 395.7L844.0 395.5L844.4 395.5L844.8 395.3L845.3 395.4L845.7 395.0L846.1 395.1L846.6 395.1L847.0 395.1L847.4 394.2L847.9 394.3L848.3 393.3L848.7 393.4L849.2 393.2L849.6 392.6L850.0 391.3L850.4 392.2L850.9 391.1L851.3 389.5L851.7 391.1L852.2 390.5L852.6 391.0L853.0 391.6L853.5 391.0L853.9 392.1L854.3 391.0L854.8 391.8L855.2 392.0L855.6 391.3L856.1 391.5L856.5 391.9L856.9 391.6L857.3 392.2L857.8 391.6L858.2 392.0L858.6 391.3L859.1 391.5L859.5 392.1L859.9 392.2L860.4 392.0L860.8 392.6L861.2 391.6L861.7 390.9L862.1 391.3L862.5 391.7L863.0 391.7L863.4 391.3L863.8 392.5L864.2 391.5L864.7 392.2L865.1 391.7L865.5 391.5L866.0 392.0L866.4 391.1L866.8 391.5L867.3 389.4L867.7 388.9L868.1 387.2L868.6 387.1L869.0 383.7L869.4 385.2L869.9 383.3L870.3 381.3L870.7 381.3L871.1 378.4L871.6 381.1L872.0 377.7L872.4 380.2L872.9 373.8L873.3 379.4L873.7 369.6L874.2 374.0L874.6 372.7L875.0 378.4L875.5 377.4L875.9 378.2L876.3 374.6L876.7 377.0L877.2 376.1L877.6 379.5L878.0 379.1L878.5 379.0L878.9 378.7L879.3 377.6L879.8 381.0L880.2 378.7L880.6 381.4L881.1 382.6L881.5 384.1L881.9 384.8L882.4 383.7L882.8 381.8L883.2 382.0L883.6 385.5L884.1 384.4L884.5 384.6L884.9 386.0L885.4 386.7L885.8 384.6L886.2 384.4L886.7 385.5L887.1 386.3L887.5 387.2L888.0 388.1L888.4 387.3L888.8 388.0L889.3 388.9L889.7 389.8L890.1 387.3L890.5 388.4L891.0 388.4L891.4 387.2L891.8 386.7L892.3 384.0L892.7 387.8L893.1 385.7L893.6 387.5L894.0 387.6L894.4 387.0L894.9 385.9L895.3 386.2L895.7 386.6L896.2 382.4L896.6 385.5L897.0 383.9L897.4 382.7L897.9 384.1L898.3 383.4L898.7 383.6L899.2 380.2L899.6 381.5L900.0 379.8L900.5 379.6L900.9 379.6L901.3 378.5L901.8 378.9L902.2 381.5L902.6 379.8L903.0 372.2L903.5 370.1L903.9 374.8L904.3 368.1L904.8 369.6L905.2 362.4L905.6 368.5L906.1 361.2L906.5 367.2L906.9 365.3L907.4 357.3L907.8 360.6L908.2 365.9L908.7 363.8L909.1 363.0L909.5 361.0L909.9 358.9L910.4 358.2L910.8 357.0L911.2 353.8L911.7 352.8L912.1 353.8L912.5 346.6L913.0 357.3L913.4 359.1L913.8 356.8L914.3 354.9L914.7 360.4L915.1 361.6L915.6 365.4L916.0 362.2L916.4 368.7L916.8 369.4L917.3 361.8L917.7 374.4L918.1 365.1L918.6 377.3L919.0 374.4L919.4 374.6L919.9 381.3L920.3 381.7L920.7 382.5L921.2 378.1L921.6 381.1L922.0 380.4L922.5 380.5L922.9 380.2L923.3 381.0L923.7 385.5L924.2 386.8L924.6 386.4L925.0 386.4L925.5 388.5L925.9 388.2L926.3 388.0L926.8 386.2L927.2 386.5L927.6 386.5L928.1 386.0L928.5 388.3L928.9 387.8L929.3 389.2L929.8 388.9L930.2 389.0L930.6 389.3L931.1 384.7L931.5 386.7L931.9 386.9L932.4 386.8L932.8 387.8L933.2 387.9L933.7 388.4L934.1 388.5L934.5 388.7L935.0 385.2L935.4 387.9L935.8 387.8L936.2 389.9L936.7 390.5L937.1 389.9L937.5 390.6L938.0 390.5L938.4 391.6L938.8 392.2L939.3 391.2L939.7 392.7L940.1 391.9L940.6 392.4L941.0 392.0L941.4 392.1L941.9 393.3L942.3 392.2L942.7 393.3L943.1 393.2L943.6 393.6L944.0 393.2L944.4 392.9L944.9 392.7L945.3 392.8L945.7 393.5L946.2 393.1L946.6 393.0L947.0 393.7L947.5 392.3L947.9 392.3L948.3 393.2L948.8 392.8L949.2 391.7L949.6 392.6L950.0 392.5L950.5 391.9L950.9 391.3L951.3 390.8L951.8 390.5L952.2 388.6L952.6 388.2L953.1 388.2L953.5 385.1L953.9 381.6L954.4 380.8L954.8 380.6L955.2 374.0L955.6 375.5L955.6 396.0Z"/>
<path class="k2" d="M890.07 389.5L890.22 312.5L890.82 312.5L890.97 389.5ZM910.74 355.6L910.89 337.5L911.49 337.5L911.64 355.6ZM955.20 377.5L955.35 355.0L955.95 355.0L956.10 377.5ZM908.23 366.0L908.38 346.2L908.98 346.2L909.13 366.0Z"/>
<path class="a" d="M843.5 396.0L843.5 395.7L847.3 395.0L851.1 392.2L854.8 392.2L858.6 393.1L862.3 392.8L866.7 392.2L868.6 388.1L870.5 383.1L872.6 380.0L875.5 379.0L877.4 380.6L878.9 379.8L880.5 383.8L883.0 386.2L885.5 387.8L887.4 387.5L889.3 390.2L891.8 388.8L894.3 388.1L896.8 386.2L899.3 383.5L901.2 380.0L902.2 382.5L903.7 376.2L905.5 370.6L907.4 365.0L908.4 367.5L909.7 360.0L910.7 358.1L911.7 353.1L912.7 357.5L914.3 362.5L915.6 366.2L916.8 372.5L918.7 378.8L920.2 382.5L922.5 382.8L924.0 386.9L925.6 389.4L927.5 388.1L930.0 390.0L932.2 388.8L935.0 390.0L937.5 391.5L940.0 393.1L943.1 394.0L946.3 394.0L949.4 393.8L951.3 391.9L953.1 388.1L954.4 383.8L955.6 377.5L955.6 396.0Z"/>
</g>
<line class="x" x1="843.5" y1="396.0" x2="955.6" y2="396.0"/>
<path class="l" d="M843.5 395.7L847.3 395.0L851.1 392.2L854.8 392.2L858.6 393.1L862.3 392.8L866.7 392.2L868.6 388.1L870.5 383.1L872.6 380.0L875.5 379.0L877.4 380.6L878.9 379.8L880.5 383.8L883.0 386.2L885.5 387.8L887.4 387.5L889.3 390.2L891.8 388.8L894.3 388.1L896.8 386.2L899.3 383.5L901.2 380.0L902.2 382.5L903.7 376.2L905.5 370.6L907.4 365.0L908.4 367.5L909.7 360.0L910.7 358.1L911.7 353.1L912.7 357.5L914.3 362.5L915.6 366.2L916.8 372.5L918.7 378.8L920.2 382.5L922.5 382.8L924.0 386.9L925.6 389.4L927.5 388.1L930.0 390.0L932.2 388.8L935.0 390.0L937.5 391.5L940.0 393.1L943.1 394.0L946.3 394.0L949.4 393.8L951.3 391.9L953.1 388.1L954.4 383.8L955.6 377.5"/>
<circle class="c" cx="955.6" cy="377.5" r="3.5"/>
<text class="v" transform="translate(955.6 371.2) scale(1.12 1)">38</text>
<text class="n" transform="translate(907.4 266.8) scale(1.085 1)">Georgia</text>
<text class="p" x="907.4" y="288.6">+56%</text>
</g>
<g>
<g clip-path="url(#cp2)">
<path class="k" d="M65.3 584.3L65.3 583.9L65.7 583.8L66.2 583.5L66.6 583.9L67.0 583.7L67.5 583.8L67.9 583.7L68.3 583.7L68.7 583.6L69.2 583.2L69.6 583.0L70.0 582.7L70.5 582.0L70.9 581.8L71.3 581.1L71.8 580.8L72.2 581.0L72.6 581.9L73.1 580.6L73.5 581.1L73.9 580.7L74.4 581.4L74.8 581.7L75.2 580.3L75.6 581.5L76.1 580.9L76.5 580.9L76.9 580.5L77.4 579.6L77.8 579.4L78.2 579.8L78.7 578.4L79.1 579.4L79.5 579.3L80.0 578.6L80.4 579.5L80.8 579.4L81.3 578.9L81.7 580.9L82.1 579.9L82.5 579.3L83.0 581.1L83.4 581.0L83.8 580.5L84.3 580.9L84.7 578.6L85.1 580.3L85.6 579.2L86.0 579.8L86.4 579.8L86.9 579.5L87.3 580.0L87.7 577.7L88.2 578.9L88.6 576.7L89.0 577.0L89.4 578.4L89.9 576.8L90.3 572.6L90.7 575.6L91.2 572.9L91.6 570.6L92.0 572.6L92.5 573.2L92.9 572.3L93.3 566.9L93.8 566.4L94.2 567.3L94.6 570.1L95.0 565.8L95.5 568.3L95.9 568.1L96.3 562.8L96.8 564.4L97.2 566.6L97.6 558.5L98.1 567.1L98.5 568.0L98.9 569.2L99.4 562.2L99.8 570.6L100.2 570.8L100.7 570.8L101.1 571.1L101.5 571.8L101.9 569.8L102.4 572.1L102.8 569.1L103.2 572.3L103.7 568.9L104.1 573.5L104.5 573.5L105.0 574.2L105.4 570.1L105.8 572.4L106.3 570.4L106.7 570.8L107.1 571.9L107.6 569.6L108.0 571.3L108.4 572.7L108.8 568.9L109.3 568.6L109.7 573.9L110.1 571.4L110.6 574.5L111.0 571.1L111.4 574.6L111.9 568.7L112.3 573.3L112.7 568.5L113.2 571.0L113.6 570.2L114.0 557.6L114.5 569.6L114.9 561.3L115.3 559.0L115.7 562.6L116.2 558.9L116.6 562.2L117.0 561.5L117.5 568.5L117.9 567.2L118.3 564.2L118.8 565.3L119.2 554.2L119.6 555.5L120.1 556.2L120.5 539.8L120.9 548.4L121.3 538.1L121.8 548.6L122.2 549.0L122.6 559.4L123.1 558.6L123.5 554.9L123.9 541.4L124.4 538.1L124.8 546.8L125.2 549.2L125.7 525.4L126.1 542.3L126.5 540.8L127.0 535.8L127.4 525.5L127.8 525.1L128.2 495.7L128.7 493.3L129.1 520.7L129.5 532.4L130.0 534.9L130.4 542.4L130.8 545.0L131.3 541.7L131.7 546.7L132.1 540.5L132.6 535.4L133.0 539.3L133.4 541.6L133.9 539.8L134.3 547.6L134.7 530.1L135.1 552.9L135.6 552.0L136.0 547.3L136.4 555.4L136.9 561.9L137.3 563.5L137.7 563.1L138.2 560.5L138.6 566.1L139.0 562.9L139.5 567.4L139.9 562.8L140.3 569.9L140.8 565.8L141.2 573.2L141.6 573.8L142.0 569.0L142.5 573.9L142.9 563.8L143.3 570.2L143.8 574.2L144.2 571.7L144.6 568.5L145.1 573.5L145.5 574.7L145.9 571.8L146.4 575.0L146.8 575.2L147.2 575.4L147.7 570.8L148.1 573.4L148.5 571.8L148.9 572.5L149.4 569.8L149.8 574.4L150.2 574.3L150.7 569.3L151.1 569.7L151.5 574.6L152.0 575.2L152.4 573.0L152.8 567.1L153.3 574.6L153.7 572.3L154.1 573.3L154.5 573.5L155.0 565.7L155.4 571.0L155.8 574.2L156.3 571.5L156.7 573.9L157.1 576.8L157.6 577.6L158.0 577.5L158.4 575.2L158.9 575.8L159.3 578.5L159.7 578.2L160.2 579.0L160.6 579.0L161.0 579.6L161.4 580.0L161.9 577.9L162.3 580.1L162.7 580.4L163.2 580.1L163.6 580.3L164.0 581.7L164.5 581.0L164.9 581.3L165.3 581.4L165.8 581.0L166.2 581.9L166.6 582.2L167.1 582.3L167.5 582.6L167.9 582.6L168.3 582.6L168.8 582.2L169.2 582.1L169.6 582.0L170.1 582.3L170.5 582.7L170.9 581.8L171.4 581.0L171.8 580.2L172.2 578.7L172.7 580.2L173.1 578.8L173.5 578.3L174.0 577.2L174.4 576.2L174.8 573.2L175.2 572.1L175.7 572.8L176.1 564.5L176.5 568.2L177.0 563.3L177.4 565.7L177.4 584.3Z"/>
<path class="k2" d="M128.12 517.4L128.27 505.5L128.87 505.5L129.02 517.4ZM176.95 566.5L177.10 536.8L177.70 536.8L177.85 566.5ZM153.73 574.9L153.88 549.2L154.48 549.2L154.63 574.9ZM121.09 553.0L121.24 529.2L121.84 529.2L121.99 553.0Z"/>
<path class="a" d="M65.3 584.3L65.3 584.0L68.8 583.6L72.0 582.0L75.7 582.4L78.9 580.5L82.0 581.8L85.1 581.1L88.3 580.2L90.2 578.6L92.0 574.2L93.9 571.1L95.8 568.6L97.7 567.4L99.6 570.5L102.1 573.0L104.6 574.2L107.1 574.9L109.0 574.0L111.5 575.2L113.4 571.1L115.3 569.9L116.5 565.5L117.5 569.2L118.8 565.5L120.0 559.2L121.5 553.0L122.8 560.5L124.3 550.5L125.3 549.2L126.6 541.8L127.6 528.0L128.6 517.4L129.6 533.0L130.6 545.5L131.8 547.4L133.1 539.2L134.3 549.2L135.6 556.8L137.2 564.2L139.4 568.0L141.0 573.0L142.3 575.5L144.8 574.9L146.6 576.1L149.2 574.9L151.7 576.1L154.2 574.9L155.4 573.6L156.9 577.4L159.2 579.2L161.7 581.1L164.8 582.4L168.0 583.2L170.5 583.2L172.4 581.1L174.3 579.2L175.8 573.0L177.4 566.5L177.4 584.3Z"/>
</g>
<line class="x" x1="65.3" y1="584.3" x2="177.4" y2="584.3"/>
<path class="l" d="M65.3 584.0L68.8 583.6L72.0 582.0L75.7 582.4L78.9 580.5L82.0 581.8L85.1 581.1L88.3 580.2L90.2 578.6L92.0 574.2L93.9 571.1L95.8 568.6L97.7 567.4L99.6 570.5L102.1 573.0L104.6 574.2L107.1 574.9L109.0 574.0L111.5 575.2L113.4 571.1L115.3 569.9L116.5 565.5L117.5 569.2L118.8 565.5L120.0 559.2L121.5 553.0L122.8 560.5L124.3 550.5L125.3 549.2L126.6 541.8L127.6 528.0L128.6 517.4L129.6 533.0L130.6 545.5L131.8 547.4L133.1 539.2L134.3 549.2L135.6 556.8L137.2 564.2L139.4 568.0L141.0 573.0L142.3 575.5L144.8 574.9L146.6 576.1L149.2 574.9L151.7 576.1L154.2 574.9L155.4 573.6L156.9 577.4L159.2 579.2L161.7 581.1L164.8 582.4L168.0 583.2L170.5 583.2L172.4 581.1L174.3 579.2L175.8 573.0L177.4 566.5"/>
<circle class="c" cx="177.4" cy="566.5" r="3.5"/>
<text class="v" transform="translate(177.4 560.2) scale(1.12 1)">38</text>
<text class="n" transform="translate(129.1 455.2) scale(1.085 1)">Tennessee</text>
<text class="p" x="129.1" y="477.0">+67%</text>
</g>
<g>
<g clip-path="url(#cp2)">
<path class="k" d="M220.9 584.3L220.9 584.0L221.4 583.8L221.8 583.9L222.2 583.9L222.7 583.7L223.1 583.5L223.5 583.5L224.0 583.4L224.4 583.7L224.8 583.2L225.3 583.6L225.7 583.1L226.1 582.5L226.6 582.4L227.0 581.8L227.4 581.9L227.8 581.3L228.3 580.2L228.7 580.1L229.1 581.1L229.6 581.3L230.0 581.3L230.4 581.2L230.9 581.5L231.3 579.4L231.7 581.2L232.2 581.6L232.6 579.7L233.0 581.6L233.5 581.8L233.9 581.4L234.3 582.1L234.7 581.1L235.2 580.3L235.6 580.8L236.0 580.1L236.5 581.4L236.9 581.5L237.3 582.1L237.8 581.2L238.2 581.1L238.6 581.5L239.1 580.3L239.5 580.9L239.9 581.6L240.4 579.3L240.8 580.1L241.2 580.6L241.6 580.8L242.1 581.3L242.5 581.7L242.9 580.3L243.4 581.5L243.8 581.2L244.2 581.5L244.7 581.1L245.1 581.4L245.5 581.1L246.0 579.6L246.4 580.2L246.8 579.7L247.3 579.9L247.7 578.7L248.1 579.2L248.5 577.4L249.0 578.9L249.4 578.2L249.8 578.0L250.3 575.7L250.7 576.1L251.1 574.6L251.6 576.4L252.0 576.4L252.4 573.9L252.9 575.6L253.3 575.4L253.7 576.7L254.1 576.6L254.6 576.1L255.0 576.9L255.4 573.3L255.9 574.3L256.3 575.7L256.7 570.4L257.2 574.8L257.6 576.1L258.0 576.4L258.5 574.4L258.9 575.9L259.3 573.7L259.8 576.6L260.2 575.5L260.6 575.7L261.0 575.5L261.5 575.2L261.9 574.1L262.3 576.8L262.8 575.5L263.2 577.0L263.6 574.7L264.1 574.4L264.5 575.1L264.9 576.0L265.4 575.6L265.8 571.6L266.2 572.7L266.7 573.9L267.1 572.0L267.5 571.3L267.9 573.7L268.4 574.1L268.8 572.2L269.2 572.9L269.7 559.1L270.1 571.8L270.5 566.2L271.0 566.9L271.4 569.5L271.8 559.7L272.3 563.5L272.7 566.2L273.1 566.0L273.6 561.2L274.0 556.8L274.4 564.0L274.8 563.0L275.3 562.0L275.7 556.4L276.1 557.9L276.6 555.1L277.0 537.9L277.4 552.4L277.9 552.6L278.3 554.2L278.7 554.1L279.2 553.9L279.6 543.8L280.0 550.1L280.4 548.7L280.9 545.7L281.3 540.1L281.7 549.1L282.2 531.2L282.6 540.8L283.0 540.2L283.5 553.0L283.9 555.0L284.3 548.4L284.8 552.6L285.2 552.1L285.6 562.5L286.1 562.9L286.5 563.8L286.9 555.8L287.3 543.8L287.8 548.9L288.2 524.2L288.6 543.7L289.1 529.3L289.5 542.6L289.9 528.8L290.4 523.2L290.8 546.9L291.2 536.9L291.7 541.7L292.1 543.9L292.5 556.3L293.0 556.5L293.4 559.1L293.8 558.1L294.2 554.5L294.7 561.2L295.1 564.3L295.5 553.1L296.0 566.1L296.4 564.2L296.8 569.9L297.3 567.9L297.7 569.9L298.1 567.8L298.6 571.2L299.0 571.7L299.4 563.3L299.9 571.4L300.3 574.2L300.7 567.7L301.1 575.3L301.6 572.2L302.0 573.6L302.4 575.6L302.9 566.8L303.3 576.6L303.7 575.8L304.2 572.9L304.6 577.2L305.0 576.9L305.5 576.8L305.9 577.2L306.3 574.6L306.7 573.8L307.2 575.2L307.6 575.9L308.0 577.2L308.5 574.4L308.9 574.8L309.3 575.2L309.8 575.5L310.2 576.9L310.6 577.2L311.1 578.5L311.5 578.1L311.9 577.8L312.4 576.7L312.8 576.2L313.2 576.6L313.6 575.3L314.1 573.9L314.5 575.0L314.9 573.8L315.4 577.7L315.8 574.8L316.2 577.6L316.7 576.1L317.1 577.2L317.5 577.5L318.0 576.4L318.4 578.2L318.8 574.8L319.3 579.5L319.7 578.9L320.1 579.9L320.5 579.9L321.0 579.5L321.4 580.4L321.8 580.4L322.3 581.4L322.7 580.0L323.1 580.1L323.6 581.9L324.0 580.4L324.4 581.3L324.9 581.8L325.3 581.3L325.7 582.0L326.2 582.5L326.6 582.6L327.0 581.6L327.4 580.0L327.9 579.4L328.3 577.3L328.7 578.6L329.2 576.3L329.6 576.8L330.0 576.6L330.5 570.6L330.9 573.8L331.3 571.5L331.8 566.6L332.2 567.2L332.6 568.6L333.0 567.8L333.0 584.3Z"/>
<path class="k2" d="M286.15 562.7L286.30 500.5L286.90 500.5L287.05 562.7ZM277.99 554.7L278.14 525.5L278.74 525.5L278.89 554.7ZM332.60 568.0L332.75 546.8L333.35 546.8L333.50 568.0ZM266.70 574.5L266.85 560.5L267.45 560.5L267.60 574.5Z"/>
<path class="a" d="M220.9 584.3L220.9 584.0L225.1 583.6L228.9 582.1L233.3 582.0L237.6 582.4L241.4 581.5L243.9 582.4L247.1 581.1L249.6 579.2L251.8 577.0L254.0 578.2L256.5 577.0L259.0 577.4L260.6 576.1L262.1 578.0L264.6 576.5L267.1 574.5L269.0 574.0L270.9 571.8L272.8 566.8L274.4 564.9L275.9 559.9L277.4 553.0L278.9 555.5L279.9 550.5L281.0 548.6L282.5 550.5L284.1 556.1L285.3 561.8L286.4 566.1L287.2 554.2L288.2 544.9L289.1 543.0L290.4 549.2L292.0 554.9L293.5 559.9L295.4 565.5L297.0 570.5L298.5 571.1L300.4 574.9L302.9 576.8L305.4 578.0L307.9 578.2L309.2 577.4L311.1 578.6L313.0 577.4L315.5 578.6L318.0 579.2L321.1 581.1L323.6 582.4L326.8 582.8L328.7 579.9L330.5 575.5L332.2 571.1L333.0 568.0L333.0 584.3Z"/>
</g>
<line class="x" x1="220.9" y1="584.3" x2="333.0" y2="584.3"/>
<path class="l" d="M220.9 584.0L225.1 583.6L228.9 582.1L233.3 582.0L237.6 582.4L241.4 581.5L243.9 582.4L247.1 581.1L249.6 579.2L251.8 577.0L254.0 578.2L256.5 577.0L259.0 577.4L260.6 576.1L262.1 578.0L264.6 576.5L267.1 574.5L269.0 574.0L270.9 571.8L272.8 566.8L274.4 564.9L275.9 559.9L277.4 553.0L278.9 555.5L279.9 550.5L281.0 548.6L282.5 550.5L284.1 556.1L285.3 561.8L286.4 566.1L287.2 554.2L288.2 544.9L289.1 543.0L290.4 549.2L292.0 554.9L293.5 559.9L295.4 565.5L297.0 570.5L298.5 571.1L300.4 574.9L302.9 576.8L305.4 578.0L307.9 578.2L309.2 577.4L311.1 578.6L313.0 577.4L315.5 578.6L318.0 579.2L321.1 581.1L323.6 582.4L326.8 582.8L328.7 579.9L330.5 575.5L332.2 571.1L333.0 568.0"/>
<circle class="c" cx="333.0" cy="568.0" r="3.5"/>
<text class="v" transform="translate(333.0 561.7) scale(1.12 1)">35</text>
<text class="n" transform="translate(284.8 455.2) scale(1.085 1)">Kentucky</text>
<text class="p" x="284.8" y="477.0">+61%</text>
</g>
<g>
<g clip-path="url(#cp2)">
<path class="k" d="M376.6 584.3L376.6 584.0L377.0 583.8L377.5 583.8L377.9 583.9L378.3 583.6L378.8 583.6L379.2 583.7L379.6 583.7L380.0 583.3L380.5 582.5L380.9 582.3L381.3 580.7L381.8 581.4L382.2 581.4L382.6 581.1L383.1 580.2L383.5 579.8L383.9 578.9L384.4 579.6L384.8 580.0L385.2 579.2L385.7 580.6L386.1 580.6L386.5 581.3L386.9 580.7L387.4 581.8L387.8 581.2L388.2 581.3L388.7 580.8L389.1 582.1L389.5 582.3L390.0 582.0L390.4 581.7L390.8 581.2L391.3 580.7L391.7 580.8L392.1 581.4L392.6 578.3L393.0 580.4L393.4 582.0L393.8 581.3L394.3 582.1L394.7 581.0L395.1 580.5L395.6 581.3L396.0 580.4L396.4 580.6L396.9 581.4L397.3 579.8L397.7 578.0L398.2 579.9L398.6 580.0L399.0 574.6L399.5 579.2L399.9 578.2L400.3 578.3L400.7 577.4L401.2 575.2L401.6 571.8L402.0 572.2L402.5 572.7L402.9 567.2L403.3 571.8L403.8 571.5L404.2 572.1L404.6 572.4L405.1 570.5L405.5 563.7L405.9 567.8L406.3 565.7L406.8 561.1L407.2 566.0L407.6 567.3L408.1 567.9L408.5 567.6L408.9 563.4L409.4 565.1L409.8 568.4L410.2 554.4L410.7 567.1L411.1 560.4L411.5 567.6L412.0 570.2L412.4 569.0L412.8 570.2L413.2 568.0L413.7 570.3L414.1 570.4L414.5 574.1L415.0 575.2L415.4 575.5L415.8 575.0L416.3 574.9L416.7 577.8L417.1 575.2L417.6 578.4L418.0 576.7L418.4 578.3L418.9 579.1L419.3 578.4L419.7 579.2L420.1 577.4L420.6 575.2L421.0 575.1L421.4 576.7L421.9 576.1L422.3 569.9L422.7 573.3L423.2 571.5L423.6 575.6L424.0 569.3L424.5 569.7L424.9 573.8L425.3 569.0L425.8 574.3L426.2 569.2L426.6 573.8L427.0 569.4L427.5 572.4L427.9 571.5L428.3 571.6L428.8 570.3L429.2 568.5L429.6 570.1L430.1 568.0L430.5 560.6L430.9 565.9L431.4 557.9L431.8 560.8L432.2 560.4L432.7 558.9L433.1 549.7L433.5 556.0L433.9 539.5L434.4 551.9L434.8 540.0L435.2 530.5L435.7 539.8L436.1 548.6L436.5 543.8L437.0 526.9L437.4 522.9L437.8 542.6L438.3 542.1L438.7 542.2L439.1 532.6L439.5 537.6L440.0 539.9L440.4 529.0L440.8 530.9L441.3 552.6L441.7 554.7L442.1 552.9L442.6 544.7L443.0 551.7L443.4 547.9L443.9 544.1L444.3 536.7L444.7 547.2L445.2 550.7L445.6 548.9L446.0 551.1L446.4 558.1L446.9 561.1L447.3 557.8L447.7 558.1L448.2 560.3L448.6 557.6L449.0 556.8L449.5 566.1L449.9 564.1L450.3 563.0L450.8 569.5L451.2 565.7L451.6 573.5L452.1 571.6L452.5 574.6L452.9 575.3L453.3 577.0L453.8 572.5L454.2 575.4L454.6 577.2L455.1 577.3L455.5 575.6L455.9 576.2L456.4 574.4L456.8 577.4L457.2 574.9L457.7 571.7L458.1 576.6L458.5 576.6L459.0 576.8L459.4 577.8L459.8 579.6L460.2 580.1L460.7 580.0L461.1 578.6L461.5 579.7L462.0 579.8L462.4 579.6L462.8 577.0L463.3 576.4L463.7 577.4L464.1 575.8L464.6 576.1L465.0 571.8L465.4 575.4L465.8 577.1L466.3 573.4L466.7 575.8L467.1 577.4L467.6 574.0L468.0 574.6L468.4 577.9L468.9 577.6L469.3 577.9L469.7 577.4L470.2 573.2L470.6 577.1L471.0 576.7L471.5 578.1L471.9 577.1L472.3 578.1L472.7 577.6L473.2 579.0L473.6 579.6L474.0 580.1L474.5 580.8L474.9 577.9L475.3 578.0L475.8 579.2L476.2 577.9L476.6 579.3L477.1 579.3L477.5 579.3L477.9 576.8L478.4 579.3L478.8 580.1L479.2 580.2L479.6 579.5L480.1 576.6L480.5 576.8L480.9 573.4L481.4 575.5L481.8 576.0L482.2 575.0L482.7 576.0L483.1 576.8L483.5 575.6L484.0 574.8L484.4 572.2L484.8 570.8L485.3 572.3L485.7 568.5L486.1 571.1L486.5 566.1L487.0 561.5L487.4 568.8L487.8 557.9L488.3 560.8L488.7 568.2L488.7 584.3Z"/>
<path class="k2" d="M437.73 542.5L437.88 528.6L438.48 528.6L438.63 542.5ZM443.26 549.6L443.41 533.0L444.01 533.0L444.16 549.6ZM488.88 568.6L489.03 546.1L489.63 546.1L489.78 568.6ZM405.93 567.9L406.08 563.0L406.68 563.0L406.83 567.9Z"/>
<path class="a" d="M376.6 584.3L376.6 584.0L380.0 583.6L383.1 581.5L385.6 581.5L388.2 582.4L391.9 582.4L395.7 582.1L398.2 581.1L400.1 579.9L402.0 574.2L403.2 572.4L404.8 572.4L406.0 568.6L407.0 566.8L408.5 568.6L410.2 568.6L412.0 571.8L413.9 574.2L415.8 576.8L417.7 579.2L419.8 579.9L421.5 577.4L423.4 576.1L425.9 574.9L427.7 572.8L429.6 570.5L431.5 564.2L433.2 558.0L434.4 551.8L435.3 546.8L436.2 551.8L437.2 543.0L438.4 542.4L439.7 544.2L440.9 551.8L441.9 556.8L443.2 551.8L444.5 546.5L445.7 554.2L447.0 561.8L448.7 566.8L450.4 571.8L452.3 576.1L453.5 578.6L456.0 578.2L457.9 577.4L459.8 580.5L462.3 579.9L464.6 577.0L466.7 578.0L469.2 578.2L471.7 578.6L474.2 581.1L476.8 579.9L479.3 580.5L481.2 576.8L483.0 577.4L484.9 573.0L486.8 570.5L488.7 568.6L488.7 584.3Z"/>
</g>
<line class="x" x1="376.6" y1="584.3" x2="488.7" y2="584.3"/>
<path class="l" d="M376.6 584.0L380.0 583.6L383.1 581.5L385.6 581.5L388.2 582.4L391.9 582.4L395.7 582.1L398.2 581.1L400.1 579.9L402.0 574.2L403.2 572.4L404.8 572.4L406.0 568.6L407.0 566.8L408.5 568.6L410.2 568.6L412.0 571.8L413.9 574.2L415.8 576.8L417.7 579.2L419.8 579.9L421.5 577.4L423.4 576.1L425.9 574.9L427.7 572.8L429.6 570.5L431.5 564.2L433.2 558.0L434.4 551.8L435.3 546.8L436.2 551.8L437.2 543.0L438.4 542.4L439.7 544.2L440.9 551.8L441.9 556.8L443.2 551.8L444.5 546.5L445.7 554.2L447.0 561.8L448.7 566.8L450.4 571.8L452.3 576.1L453.5 578.6L456.0 578.2L457.9 577.4L459.8 580.5L462.3 579.9L464.6 577.0L466.7 578.0L469.2 578.2L471.7 578.6L474.2 581.1L476.8 579.9L479.3 580.5L481.2 576.8L483.0 577.4L484.9 573.0L486.8 570.5L488.7 568.6"/>
<circle class="c" cx="488.7" cy="568.6" r="3.5"/>
<text class="v" transform="translate(488.7 562.3) scale(1.12 1)">34</text>
<text class="n" transform="translate(440.4 455.2) scale(1.085 1)">Nevada</text>
<text class="p" x="440.4" y="477.0">+11%</text>
</g>
<g>
<g clip-path="url(#cp2)">
<path class="k" d="M532.2 584.3L532.2 584.0L532.7 583.7L533.1 583.6L533.5 583.6L534.0 583.5L534.4 583.1L534.8 583.3L535.3 582.4L535.7 582.4L536.1 581.7L536.6 582.3L537.0 582.2L537.4 582.3L537.9 581.6L538.3 582.1L538.7 581.6L539.1 581.0L539.6 580.4L540.0 581.6L540.4 580.9L540.9 581.5L541.3 582.0L541.7 582.8L542.2 582.4L542.6 583.5L543.0 583.5L543.5 583.4L543.9 583.1L544.3 583.1L544.8 582.1L545.2 582.4L545.6 582.8L546.0 582.0L546.5 582.6L546.9 581.4L547.3 582.3L547.8 581.4L548.2 582.3L548.6 580.1L549.1 582.5L549.5 581.3L549.9 581.6L550.4 581.9L550.8 581.6L551.2 581.2L551.7 581.5L552.1 581.6L552.5 581.8L552.9 581.8L553.4 582.2L553.8 581.5L554.2 580.9L554.7 581.2L555.1 581.1L555.5 580.7L556.0 581.6L556.4 578.6L556.8 580.5L557.3 580.4L557.7 580.7L558.1 578.9L558.6 578.6L559.0 580.1L559.4 580.4L559.8 579.6L560.3 580.4L560.7 579.2L561.1 580.0L561.6 580.0L562.0 579.9L562.4 579.5L562.9 580.3L563.3 580.1L563.7 578.9L564.2 579.4L564.6 580.3L565.0 577.6L565.4 579.8L565.9 579.3L566.3 580.7L566.7 581.0L567.2 579.0L567.6 580.4L568.0 580.2L568.5 580.1L568.9 581.1L569.3 579.9L569.8 579.5L570.2 579.1L570.6 580.5L571.1 579.6L571.5 580.2L571.9 580.3L572.3 580.4L572.8 579.9L573.2 579.2L573.6 578.0L574.1 579.7L574.5 579.6L574.9 577.9L575.4 579.1L575.8 577.6L576.2 574.8L576.7 575.8L577.1 575.1L577.5 574.1L578.0 571.1L578.4 571.1L578.8 572.7L579.2 571.7L579.7 571.6L580.1 567.6L580.5 568.4L581.0 568.6L581.4 558.9L581.8 562.2L582.3 562.9L582.7 563.3L583.1 560.9L583.6 559.4L584.0 557.4L584.4 554.8L584.9 552.8L585.3 550.4L585.7 546.1L586.1 533.5L586.6 537.5L587.0 529.4L587.4 521.4L587.9 523.2L588.3 519.9L588.7 517.1L589.2 507.3L589.6 485.9L590.0 503.6L590.5 521.2L590.9 510.0L591.3 527.3L591.7 534.1L592.2 521.1L592.6 537.5L593.0 540.2L593.5 542.3L593.9 537.3L594.3 548.6L594.8 547.7L595.2 548.0L595.6 555.8L596.1 556.0L596.5 556.3L596.9 559.6L597.4 563.0L597.8 561.6L598.2 562.2L598.6 562.0L599.1 561.5L599.5 562.1L599.9 558.0L600.4 548.0L600.8 552.8L601.2 554.8L601.7 549.9L602.1 546.0L602.5 552.9L603.0 559.1L603.4 561.1L603.8 562.5L604.3 568.8L604.7 566.8L605.1 565.8L605.5 572.1L606.0 572.8L606.4 573.8L606.8 574.0L607.3 576.3L607.7 577.2L608.1 576.9L608.6 576.4L609.0 571.9L609.4 575.2L609.9 574.6L610.3 573.6L610.7 573.0L611.2 575.0L611.6 577.5L612.0 578.6L612.4 577.7L612.9 577.4L613.3 578.5L613.7 578.3L614.2 578.5L614.6 578.7L615.0 579.0L615.5 577.9L615.9 577.9L616.3 578.2L616.8 578.0L617.2 573.4L617.6 576.6L618.0 577.6L618.5 577.6L618.9 577.6L619.3 574.6L619.8 576.4L620.2 578.2L620.6 577.7L621.1 577.2L621.5 576.4L621.9 575.8L622.4 577.1L622.8 578.5L623.2 576.2L623.7 577.6L624.1 574.7L624.5 577.3L624.9 578.0L625.4 577.6L625.8 576.6L626.2 578.1L626.7 577.4L627.1 577.0L627.5 577.6L628.0 577.0L628.4 575.9L628.8 576.5L629.3 576.9L629.7 576.8L630.1 576.7L630.6 575.7L631.0 577.1L631.4 576.3L631.8 574.6L632.3 575.5L632.7 576.8L633.1 576.9L633.6 578.3L634.0 577.7L634.4 575.2L634.9 578.5L635.3 578.5L635.7 578.3L636.2 578.1L636.6 576.5L637.0 576.2L637.5 576.5L637.9 575.1L638.3 577.5L638.7 577.6L639.2 575.4L639.6 577.2L640.0 574.6L640.5 576.4L640.9 575.8L641.3 574.4L641.8 572.9L642.2 572.5L642.6 574.0L643.1 572.6L643.5 569.8L643.9 567.7L644.4 566.1L644.4 584.3Z"/>
<path class="k2" d="M587.66 522.4L587.81 498.0L588.41 498.0L588.56 522.4ZM588.92 514.1L589.07 498.0L589.67 498.0L589.82 514.1ZM595.82 560.5L595.97 523.0L596.57 523.0L596.72 560.5ZM599.96 556.1L600.11 529.2L600.71 529.2L600.86 556.1ZM630.34 578.2L630.49 565.5L631.09 565.5L631.24 578.2Z"/>
<path class="a" d="M532.2 584.3L532.2 584.0L536.0 583.0L539.8 582.0L542.9 583.6L546.7 582.8L550.5 582.8L554.2 582.4L557.4 581.1L560.5 581.1L563.6 580.2L566.1 580.8L568.0 581.8L569.9 580.5L572.4 581.5L574.9 579.9L577.4 575.5L580.0 571.8L582.1 566.8L583.7 559.2L585.4 550.5L586.6 538.0L587.9 524.2L588.9 516.8L589.6 512.8L590.4 523.0L591.4 533.0L592.5 536.8L593.8 545.5L595.0 553.0L596.3 560.5L596.9 568.0L598.2 566.1L599.4 563.0L600.4 556.1L601.7 556.1L602.7 563.0L604.2 569.2L605.7 573.0L607.6 578.0L609.5 576.1L610.7 576.8L612.2 579.2L615.1 579.2L618.2 578.6L621.4 579.2L624.5 578.6L627.7 578.2L629.5 577.0L630.8 578.2L632.3 577.4L634.6 579.2L637.1 578.6L639.6 577.4L641.5 576.1L643.1 573.6L644.4 569.2L644.4 584.3Z"/>
</g>
<line class="x" x1="532.2" y1="584.3" x2="644.4" y2="584.3"/>
<path class="l" d="M532.2 584.0L536.0 583.0L539.8 582.0L542.9 583.6L546.7 582.8L550.5 582.8L554.2 582.4L557.4 581.1L560.5 581.1L563.6 580.2L566.1 580.8L568.0 581.8L569.9 580.5L572.4 581.5L574.9 579.9L577.4 575.5L580.0 571.8L582.1 566.8L583.7 559.2L585.4 550.5L586.6 538.0L587.9 524.2L588.9 516.8L589.6 512.8L590.4 523.0L591.4 533.0L592.5 536.8L593.8 545.5L595.0 553.0L596.3 560.5L596.9 568.0L598.2 566.1L599.4 563.0L600.4 556.1L601.7 556.1L602.7 563.0L604.2 569.2L605.7 573.0L607.6 578.0L609.5 576.1L610.7 576.8L612.2 579.2L615.1 579.2L618.2 578.6L621.4 579.2L624.5 578.6L627.7 578.2L629.5 577.0L630.8 578.2L632.3 577.4L634.6 579.2L637.1 578.6L639.6 577.4L641.5 576.1L643.1 573.6L644.4 569.2"/>
<circle class="c" cx="644.4" cy="569.2" r="3.5"/>
<text class="v" transform="translate(644.4 563.0) scale(1.12 1)">33</text>
<text class="n" transform="translate(596.1 455.2) scale(1.085 1)">Wyoming</text>
<text class="p" x="596.1" y="477.0">+70%</text>
</g>
<g>
<g clip-path="url(#cp2)">
<path class="k" d="M687.9 584.3L687.9 584.2L688.3 584.2L688.8 584.2L689.2 584.2L689.6 584.2L690.1 584.2L690.5 584.2L690.9 584.2L691.3 584.2L691.8 584.2L692.2 584.2L692.6 584.2L693.1 584.2L693.5 584.2L693.9 584.2L694.4 584.2L694.8 584.2L695.2 584.2L695.7 584.2L696.1 584.2L696.5 584.2L697.0 584.0L697.4 584.0L697.8 583.6L698.2 583.6L698.7 583.5L699.1 582.1L699.5 580.4L700.0 582.3L700.4 582.5L700.8 582.1L701.3 582.1L701.7 583.2L702.1 583.3L702.6 583.4L703.0 584.2L703.4 584.2L703.9 584.2L704.3 584.2L704.7 584.2L705.1 584.2L705.6 584.2L706.0 584.2L706.4 584.2L706.9 584.2L707.3 584.2L707.7 584.2L708.2 584.2L708.6 584.2L709.0 584.1L709.5 584.1L709.9 584.0L710.3 583.9L710.8 583.7L711.2 583.5L711.6 583.5L712.0 582.9L712.5 581.9L712.9 581.8L713.3 580.6L713.8 582.1L714.2 578.8L714.6 578.0L715.1 577.6L715.5 574.5L715.9 574.8L716.4 577.0L716.8 575.8L717.2 573.4L717.6 570.3L718.1 573.6L718.5 578.7L718.9 574.6L719.4 578.6L719.8 577.4L720.2 575.6L720.7 574.7L721.1 576.7L721.5 575.7L722.0 569.0L722.4 565.9L722.8 564.6L723.3 569.4L723.7 569.4L724.1 564.1L724.5 569.0L725.0 568.6L725.4 562.7L725.8 561.5L726.3 569.9L726.7 572.0L727.1 571.7L727.6 574.9L728.0 576.5L728.4 579.7L728.9 578.6L729.3 580.7L729.7 577.7L730.2 581.3L730.6 580.3L731.0 580.2L731.4 580.3L731.9 578.5L732.3 580.6L732.7 580.9L733.2 580.6L733.6 579.1L734.0 581.6L734.5 581.8L734.9 582.4L735.3 581.1L735.8 582.4L736.2 583.2L736.6 582.9L737.1 582.3L737.5 583.1L737.9 582.5L738.3 581.6L738.8 582.0L739.2 580.9L739.6 579.8L740.1 581.9L740.5 581.3L740.9 581.1L741.4 580.7L741.8 581.6L742.2 580.2L742.7 580.4L743.1 581.2L743.5 581.5L744.0 580.0L744.4 580.7L744.8 579.4L745.2 572.8L745.7 579.6L746.1 579.2L746.5 577.6L747.0 579.9L747.4 576.9L747.8 575.7L748.3 571.9L748.7 571.1L749.1 565.8L749.6 570.8L750.0 562.1L750.4 565.6L750.8 575.1L751.3 575.5L751.7 576.5L752.1 571.4L752.6 578.8L753.0 580.7L753.4 580.7L753.9 578.5L754.3 577.3L754.7 576.7L755.2 575.9L755.6 571.5L756.0 575.9L756.5 578.3L756.9 580.5L757.3 578.2L757.7 576.9L758.2 575.1L758.6 573.5L759.0 576.2L759.5 577.5L759.9 577.6L760.3 575.3L760.8 569.5L761.2 577.0L761.6 577.7L762.1 576.4L762.5 578.7L762.9 574.3L763.4 577.9L763.8 580.3L764.2 578.8L764.6 579.7L765.1 578.0L765.5 576.5L765.9 577.5L766.4 575.4L766.8 577.8L767.2 576.7L767.7 570.6L768.1 576.2L768.5 573.5L769.0 578.6L769.4 579.0L769.8 581.2L770.3 582.5L770.7 582.1L771.1 582.7L771.5 583.6L772.0 579.5L772.4 568.7L772.8 574.6L773.3 574.3L773.7 575.7L774.1 579.9L774.6 580.1L775.0 580.2L775.4 580.8L775.9 580.1L776.3 579.7L776.7 577.6L777.1 579.2L777.6 580.0L778.0 580.5L778.4 577.0L778.9 580.6L779.3 577.5L779.7 579.7L780.2 580.0L780.6 576.6L781.0 578.7L781.5 578.1L781.9 577.2L782.3 575.9L782.8 579.5L783.2 577.7L783.6 576.4L784.0 579.3L784.5 577.6L784.9 574.8L785.3 574.5L785.8 576.3L786.2 575.4L786.6 574.5L787.1 571.6L787.5 566.6L787.9 571.6L788.4 571.5L788.8 565.3L789.2 574.0L789.7 573.4L790.1 573.8L790.5 577.8L790.9 578.8L791.4 579.2L791.8 577.1L792.2 576.8L792.7 578.1L793.1 578.3L793.5 578.0L794.0 577.9L794.4 576.2L794.8 578.1L795.3 571.9L795.7 573.9L796.1 572.2L796.6 571.1L797.0 568.6L797.4 557.5L797.8 570.7L798.3 559.0L798.7 561.3L799.1 557.0L799.6 563.0L800.0 569.2L800.0 584.3Z"/>
<path class="k2" style="fill-opacity:.1" d="M771.84 575.5L771.99 524.9L772.59 524.9L772.74 575.5ZM795.14 575.5L795.29 530.5L795.89 530.5L796.04 575.5ZM756.73 579.7L756.88 542.4L757.48 542.4L757.63 579.7ZM723.35 570.4L723.50 556.8L724.10 556.8L724.25 570.4ZM720.83 576.7L720.98 560.5L721.58 560.5L721.73 576.7ZM748.54 574.7L748.69 558.0L749.29 558.0L749.44 574.7ZM766.17 579.0L766.32 563.0L766.92 563.0L767.07 579.0ZM786.32 575.4L786.47 551.8L787.07 551.8L787.22 575.4ZM780.03 579.9L780.18 570.5L780.78 570.5L780.93 579.9ZM799.55 569.5L799.70 543.0L800.30 543.0L800.45 569.5ZM716.42 576.7L716.57 568.0L717.17 568.0L717.32 576.7Z"/>
<path class="a" style="fill-opacity:.08" d="M687.9 584.3L696.7 584.2L699.2 583.2L701.1 583.0L703.0 584.2L708.7 584.2L711.8 583.6L713.7 582.4L715.6 578.6L717.2 576.1L718.8 579.2L720.6 578.6L722.5 573.0L724.0 569.9L725.7 569.5L727.3 574.2L728.6 580.5L730.1 581.5L732.6 581.1L734.5 583.2L737.7 583.2L740.2 582.4L741.4 581.5L743.3 582.4L745.2 580.5L747.1 580.5L748.7 574.9L750.2 574.0L751.8 576.8L753.0 581.1L754.7 580.5L755.9 576.8L756.8 581.1L758.4 574.9L759.7 578.6L761.6 578.6L763.5 580.5L765.4 579.9L767.3 578.6L769.1 579.2L770.1 583.0L771.7 583.6L772.3 575.5L773.5 575.2L774.2 581.1L776.7 580.5L779.2 581.1L781.7 578.6L783.6 580.5L785.3 576.8L787.4 574.9L789.3 576.8L791.2 580.5L793.1 579.2L795.0 578.6L796.2 572.4L798.1 570.5L800.0 569.5L800.0 584.3Z"/>
</g>
<line class="x" x1="687.9" y1="584.3" x2="800.0" y2="584.3"/>
<path class="l" d="M696.7 584.2L699.2 583.2L701.1 583.0L703.0 584.2L708.7 584.2L711.8 583.6L713.7 582.4L715.6 578.6L717.2 576.1L718.8 579.2L720.6 578.6L722.5 573.0L724.0 569.9L725.7 569.5L727.3 574.2L728.6 580.5L730.1 581.5L732.6 581.1L734.5 583.2L737.7 583.2L740.2 582.4L741.4 581.5L743.3 582.4L745.2 580.5L747.1 580.5L748.7 574.9L750.2 574.0L751.8 576.8L753.0 581.1L754.7 580.5L755.9 576.8L756.8 581.1L758.4 574.9L759.7 578.6L761.6 578.6L763.5 580.5L765.4 579.9L767.3 578.6L769.1 579.2L770.1 583.0L771.7 583.6L772.3 575.5L773.5 575.2L774.2 581.1L776.7 580.5L779.2 581.1L781.7 578.6L783.6 580.5L785.3 576.8L787.4 574.9L789.3 576.8L791.2 580.5L793.1 579.2L795.0 578.6L796.2 572.4L798.1 570.5L800.0 569.5"/>
<circle class="c" cx="800.0" cy="569.5" r="3.5"/>
<text class="v" transform="translate(800.0 563.2) scale(1.12 1)">32</text>
<text class="n" transform="translate(751.7 455.2) scale(1.085 1)">Virgin Islands</text>
<text class="p" x="751.7" y="477.0">+17%</text>
</g>
<g>
<g clip-path="url(#cp2)">
<path class="k" d="M843.5 584.3L843.5 583.8L844.0 583.8L844.4 583.7L844.8 583.9L845.3 583.9L845.7 583.8L846.1 583.5L846.6 583.2L847.0 583.7L847.4 583.7L847.9 583.3L848.3 583.1L848.7 583.3L849.2 581.5L849.6 582.8L850.0 581.3L850.4 581.6L850.9 581.4L851.3 582.1L851.7 582.2L852.2 582.1L852.6 580.7L853.0 581.7L853.5 581.0L853.9 579.9L854.3 580.5L854.8 579.8L855.2 577.9L855.6 579.5L856.1 578.1L856.5 578.4L856.9 578.9L857.3 577.7L857.8 577.2L858.2 579.0L858.6 579.8L859.1 579.9L859.5 579.8L859.9 578.6L860.4 580.2L860.8 581.0L861.2 580.8L861.7 581.8L862.1 581.0L862.5 581.8L863.0 579.9L863.4 581.6L863.8 581.7L864.2 581.3L864.7 580.5L865.1 582.0L865.5 581.2L866.0 581.0L866.4 580.9L866.8 581.3L867.3 580.5L867.7 580.0L868.1 580.5L868.6 579.4L869.0 579.9L869.4 578.5L869.9 577.6L870.3 577.7L870.7 575.0L871.1 575.6L871.6 576.5L872.0 576.2L872.4 570.9L872.9 573.1L873.3 572.6L873.7 573.6L874.2 575.5L874.6 571.8L875.0 573.9L875.5 575.6L875.9 574.2L876.3 575.2L876.7 577.3L877.2 576.7L877.6 574.3L878.0 576.0L878.5 577.5L878.9 576.4L879.3 576.6L879.8 574.8L880.2 573.4L880.6 572.8L881.1 573.4L881.5 566.9L881.9 571.4L882.4 568.8L882.8 566.9L883.2 574.2L883.6 574.9L884.1 571.1L884.5 573.9L884.9 573.8L885.4 576.4L885.8 575.8L886.2 571.8L886.7 566.3L887.1 573.4L887.5 569.7L888.0 573.8L888.4 566.8L888.8 573.6L889.3 568.1L889.7 573.9L890.1 572.0L890.5 573.0L891.0 567.6L891.4 572.7L891.8 566.6L892.3 571.5L892.7 566.3L893.1 568.8L893.6 565.3L894.0 558.4L894.4 569.7L894.9 560.1L895.3 561.7L895.7 560.1L896.2 546.1L896.6 535.1L897.0 532.1L897.4 543.7L897.9 535.2L898.3 519.3L898.7 542.2L899.2 529.1L899.6 538.1L900.0 539.3L900.5 538.7L900.9 537.7L901.3 539.8L901.8 539.9L902.2 523.9L902.6 546.7L903.0 546.2L903.5 524.6L903.9 545.5L904.3 524.9L904.8 532.0L905.2 537.1L905.6 527.7L906.1 535.7L906.5 539.7L906.9 530.6L907.4 551.1L907.8 556.7L908.2 557.7L908.7 541.6L909.1 537.5L909.5 541.0L909.9 543.6L910.4 547.4L910.8 545.4L911.2 527.4L911.7 546.1L912.1 547.7L912.5 550.5L913.0 541.5L913.4 542.5L913.8 558.3L914.3 559.2L914.7 551.3L915.1 550.6L915.6 558.4L916.0 563.1L916.4 561.9L916.8 557.7L917.3 569.5L917.7 567.6L918.1 572.3L918.6 573.8L919.0 571.8L919.4 574.1L919.9 572.7L920.3 572.0L920.7 572.9L921.2 573.2L921.6 572.6L922.0 575.9L922.5 574.1L922.9 574.6L923.3 578.4L923.7 577.3L924.2 578.4L924.6 576.4L925.0 576.3L925.5 574.0L925.9 577.0L926.3 578.6L926.8 579.6L927.2 578.9L927.6 578.6L928.1 577.6L928.5 579.6L928.9 580.1L929.3 578.8L929.8 578.7L930.2 580.2L930.6 580.3L931.1 578.8L931.5 579.5L931.9 579.6L932.4 578.5L932.8 579.9L933.2 576.5L933.7 579.9L934.1 580.5L934.5 574.7L935.0 577.9L935.4 579.5L935.8 576.7L936.2 578.8L936.7 580.4L937.1 579.6L937.5 580.3L938.0 579.5L938.4 579.0L938.8 579.5L939.3 580.9L939.7 579.3L940.1 580.4L940.6 580.9L941.0 580.3L941.4 578.9L941.9 579.2L942.3 579.5L942.7 579.0L943.1 580.8L943.6 580.4L944.0 581.4L944.4 580.7L944.9 579.7L945.3 581.8L945.7 582.1L946.2 581.6L946.6 579.3L947.0 579.5L947.5 581.3L947.9 579.5L948.3 579.5L948.8 581.1L949.2 579.9L949.6 579.5L950.0 578.0L950.5 576.2L950.9 576.5L951.3 575.3L951.8 574.3L952.2 568.9L952.6 569.1L953.1 565.1L953.5 571.7L953.9 570.9L954.4 570.9L954.8 568.6L955.2 562.2L955.6 565.7L955.6 584.3Z"/>
<path class="k2" style="fill-opacity:.062" d="M956.45 569.5L956.60 541.8L957.20 541.8L957.35 569.5ZM895.65 584.3L895.65 495.5L896.03 495.5L896.03 584.3ZM896.16 584.3L896.16 495.5L896.53 495.5L896.53 584.3ZM896.53 584.3L896.53 495.5L897.03 495.5L897.03 584.3ZM897.03 584.3L897.03 507.2L897.53 507.2L897.53 584.3ZM897.53 584.3L897.53 495.5L898.16 495.5L898.16 584.3ZM898.16 584.3L898.16 517.5L898.91 517.5L898.91 584.3ZM898.91 584.3L898.91 495.5L899.66 495.5L899.66 584.3ZM899.79 584.3L899.79 514.2L900.29 514.2L900.29 584.3ZM900.29 584.3L900.29 495.5L900.92 495.5L900.92 584.3ZM901.04 584.3L901.04 495.5L901.79 495.5L901.79 584.3ZM901.79 584.3L901.79 495.5L902.54 495.5L902.54 584.3ZM902.79 584.3L902.79 512.9L903.29 512.9L903.29 584.3ZM903.29 584.3L903.29 513.9L903.80 513.9L903.80 584.3ZM903.92 584.3L903.92 495.5L904.30 495.5L904.30 584.3ZM904.30 584.3L904.30 495.5L904.80 495.5L904.80 584.3ZM904.80 584.3L904.80 504.4L905.17 504.4L905.17 584.3ZM905.17 584.3L905.17 495.5L905.67 495.5L905.67 584.3ZM905.67 584.3L905.67 495.5L906.30 495.5L906.30 584.3ZM906.55 584.3L906.55 527.4L907.18 527.4L907.18 584.3ZM907.43 584.3L907.43 526.4L907.93 526.4L907.93 584.3ZM908.18 584.3L908.18 495.5L908.93 495.5L908.93 584.3ZM908.93 584.3L908.93 495.5L909.56 495.5L909.56 584.3ZM909.56 584.3L909.56 495.5L910.18 495.5L910.18 584.3ZM910.18 584.3L910.18 495.5L910.81 495.5L910.81 584.3ZM910.81 584.3L910.81 508.0L911.31 508.0L911.31 584.3ZM911.44 584.3L911.44 495.5L911.81 495.5L911.81 584.3ZM911.81 584.3L911.81 543.8L912.31 543.8L912.31 584.3ZM912.44 584.3L912.44 541.2L912.94 541.2L912.94 584.3ZM912.94 584.3L912.94 520.5L913.69 520.5L913.69 584.3ZM913.69 584.3L913.69 518.4L914.07 518.4L914.07 584.3ZM914.07 584.3L914.07 524.6L914.57 524.6L914.57 584.3ZM914.57 584.3L914.57 518.8L915.19 518.8L915.19 584.3Z"/>
<path class="a" style="fill-opacity:.04" d="M843.5 584.3L843.5 584.0L847.9 583.6L851.1 582.4L853.6 582.0L855.4 579.9L858.0 579.2L859.8 581.1L862.3 582.4L865.5 582.4L868.0 581.1L870.5 578.0L872.4 576.8L874.9 576.1L876.7 577.8L879.9 577.4L881.8 574.0L883.6 574.9L885.5 576.8L887.1 574.5L889.3 574.9L891.1 573.6L893.0 571.8L894.7 570.8L895.4 573.6L896.2 556.8L896.8 526.5L897.7 550.5L898.7 543.0L900.2 539.5L901.8 540.2L903.0 550.5L904.3 543.6L905.5 549.2L907.2 548.6L907.9 563.6L908.7 549.2L909.7 542.4L910.7 550.5L911.4 546.1L912.4 550.5L913.7 558.0L914.9 563.0L916.8 569.2L918.7 574.2L920.6 574.9L922.5 578.0L925.0 579.9L927.5 579.9L930.6 580.8L933.7 580.8L935.6 579.9L937.5 581.1L940.6 581.5L943.8 581.8L946.3 582.4L948.8 581.1L950.6 578.0L952.5 574.2L954.4 571.1L955.6 569.5L955.6 584.3Z"/>
<path class="a" style="fill-opacity:.07" d="M843.5 584.3L843.5 584.0L847.9 583.6L851.1 582.4L853.6 582.0L855.4 579.9L858.0 579.2L859.8 581.1L862.3 582.4L865.5 582.4L868.0 581.1L870.5 578.0L872.4 576.8L874.9 576.1L876.7 577.8L879.9 577.4L881.8 574.0L883.6 574.9L885.5 576.8L887.1 574.5L889.3 574.9L891.1 573.6L893.0 571.8L894.7 570.8L895.4 573.6L896.2 556.8L896.8 526.5L897.7 550.5L898.7 543.0L900.2 539.5L901.8 540.2L903.0 550.5L904.3 543.6L905.5 549.2L907.2 548.6L907.9 563.6L908.7 549.2L909.7 542.4L910.7 550.5L911.4 546.1L912.4 550.5L913.7 558.0L914.9 563.0L914.9 584.3Z"/>
</g>
<line class="x" x1="843.5" y1="584.3" x2="955.6" y2="584.3"/>
<path class="l" d="M843.5 584.0L847.9 583.6L851.1 582.4L853.6 582.0L855.4 579.9L858.0 579.2L859.8 581.1L862.3 582.4L865.5 582.4L868.0 581.1L870.5 578.0L872.4 576.8L874.9 576.1L876.7 577.8L879.9 577.4L881.8 574.0L883.6 574.9L885.5 576.8L887.1 574.5L889.3 574.9L891.1 573.6L893.0 571.8L894.7 570.8L895.4 573.6L896.2 556.8L896.8 526.5L897.7 550.5L898.7 543.0L900.2 539.5L901.8 540.2L903.0 550.5L904.3 543.6L905.5 549.2L907.2 548.6L907.9 563.6L908.7 549.2L909.7 542.4L910.7 550.5L911.4 546.1L912.4 550.5L913.7 558.0L914.9 563.0L916.8 569.2L918.7 574.2L920.6 574.9L922.5 578.0L925.0 579.9L927.5 579.9L930.6 580.8L933.7 580.8L935.6 579.9L937.5 581.1L940.6 581.5L943.8 581.8L946.3 582.4L948.8 581.1L950.6 578.0L952.5 574.2L954.4 571.1L955.6 569.5"/>
<circle class="c" cx="955.6" cy="569.5" r="3.5"/>
<text class="v" transform="translate(955.6 563.2) scale(1.12 1)">31</text>
<text class="n" transform="translate(907.4 455.2) scale(1.085 1)">Kansas</text>
<text class="p" x="907.4" y="477.0">+23%</text>
</g>
</svg></body></html>
